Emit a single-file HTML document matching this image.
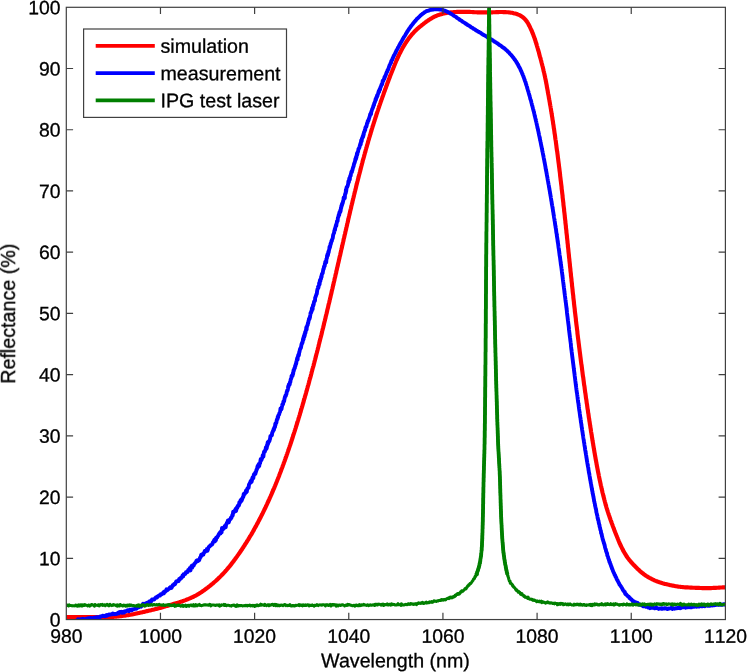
<!DOCTYPE html>
<html><head><meta charset="utf-8"><title>Reflectance</title>
<style>html,body{margin:0;padding:0;background:#fff}svg{display:block}</style></head>
<body><svg width="747" height="672" viewBox="0 0 747 672">
<rect width="747" height="672" fill="#fff"/>
<defs><clipPath id="c"><rect x="66.3" y="7.3" width="659.1" height="612.25"/></clipPath><filter id="f" x="-5%" y="-5%" width="110%" height="110%" color-interpolation-filters="sRGB"><feOffset dx="0" dy="0"/></filter></defs>
<g clip-path="url(#c)" fill="none" stroke-linejoin="round" stroke-linecap="butt">
<path d="M64.0,617.1 L64.4,617.1 L64.9,617.1 L65.4,617.1 L66.0,617.1 L66.6,617.1 L67.2,617.1 L67.9,617.1 L68.6,617.1 L69.4,617.1 L70.1,617.1 L70.9,617.1 L71.7,617.1 L72.4,617.1 L73.2,617.1 L74.0,617.1 L74.8,617.1 L75.6,617.1 L76.4,617.1 L77.2,617.1 L78.0,617.1 L78.8,617.1 L79.6,617.1 L80.4,617.1 L81.2,617.1 L82.0,617.1 L82.8,617.1 L83.6,617.1 L84.4,617.1 L85.2,617.1 L86.0,617.1 L86.8,617.1 L87.6,617.1 L88.4,617.1 L89.2,617.1 L90.0,617.1 L90.8,617.1 L91.6,617.1 L92.4,617.0 L93.2,617.0 L94.0,617.0 L94.8,617.0 L95.6,617.0 L96.4,617.0 L97.2,617.0 L98.0,617.0 L98.8,617.0 L99.6,617.0 L100.4,617.0 L101.2,617.0 L102.0,617.0 L102.8,617.0 L103.6,617.0 L104.4,617.0 L105.2,617.0 L106.0,617.0 L106.8,617.0 L107.6,617.0 L108.4,617.0 L109.2,617.0 L110.0,617.0 L110.8,616.9 L111.6,616.9 L112.4,616.9 L113.2,616.8 L114.0,616.8 L114.8,616.7 L115.6,616.6 L116.4,616.6 L117.2,616.5 L118.0,616.4 L118.8,616.4 L119.6,616.3 L120.4,616.2 L121.1,616.1 L121.9,616.0 L122.7,615.9 L123.5,615.8 L124.3,615.7 L125.1,615.6 L125.9,615.5 L126.7,615.3 L127.5,615.2 L128.3,615.1 L129.1,615.0 L129.9,614.8 L130.6,614.7 L131.4,614.5 L132.2,614.4 L133.0,614.2 L133.8,614.1 L134.6,613.9 L135.4,613.8 L136.1,613.6 L136.9,613.4 L137.7,613.3 L138.5,613.1 L139.3,612.9 L140.0,612.8 L140.8,612.6 L141.6,612.4 L142.4,612.2 L143.2,612.0 L143.9,611.9 L144.7,611.7 L145.5,611.5 L146.3,611.3 L147.1,611.1 L147.8,611.0 L148.6,610.8 L149.4,610.6 L150.2,610.4 L151.0,610.2 L151.7,610.0 L152.5,609.8 L153.3,609.7 L154.1,609.5 L154.8,609.3 L155.6,609.1 L156.4,608.9 L157.2,608.7 L157.9,608.5 L158.7,608.3 L159.5,608.1 L160.3,607.9 L161.0,607.7 L161.8,607.4 L162.6,607.2 L163.3,607.0 L164.1,606.8 L164.9,606.6 L165.6,606.3 L166.4,606.1 L167.2,605.9 L167.9,605.7 L168.7,605.4 L169.5,605.2 L170.2,605.0 L171.0,604.7 L171.8,604.5 L172.5,604.3 L173.3,604.1 L174.1,603.8 L174.8,603.6 L175.6,603.4 L176.4,603.1 L177.1,602.9 L177.9,602.7 L178.7,602.4 L179.4,602.2 L180.2,601.9 L181.0,601.7 L181.7,601.4 L182.5,601.2 L183.2,600.9 L184.0,600.7 L184.7,600.4 L185.5,600.1 L186.2,599.8 L187.0,599.5 L187.7,599.2 L188.5,598.9 L189.2,598.6 L189.9,598.3 L190.7,598.0 L191.4,597.7 L192.1,597.3 L192.8,597.0 L193.6,596.7 L194.3,596.3 L195.0,595.9 L195.7,595.6 L196.4,595.2 L197.1,594.8 L197.8,594.4 L198.4,594.0 L199.1,593.6 L199.8,593.1 L200.5,592.7 L201.2,592.3 L201.8,591.8 L202.5,591.4 L203.1,590.9 L203.8,590.5 L204.5,590.0 L205.1,589.5 L205.8,589.0 L206.4,588.6 L207.0,588.1 L207.7,587.6 L208.3,587.1 L208.9,586.6 L209.6,586.1 L210.2,585.6 L210.8,585.1 L211.4,584.6 L212.0,584.1 L212.7,583.6 L213.3,583.1 L213.9,582.5 L214.5,582.0 L215.1,581.5 L215.7,581.0 L216.3,580.4 L216.9,579.9 L217.4,579.3 L218.0,578.8 L218.6,578.2 L219.2,577.7 L219.8,577.1 L220.3,576.5 L220.9,576.0 L221.5,575.4 L222.0,574.8 L222.6,574.2 L223.1,573.7 L223.7,573.1 L224.2,572.5 L224.8,571.9 L225.3,571.3 L225.8,570.7 L226.4,570.1 L226.9,569.5 L227.4,568.9 L227.9,568.3 L228.4,567.7 L228.9,567.1 L229.5,566.5 L230.0,565.9 L230.5,565.2 L231.0,564.6 L231.4,564.0 L231.9,563.3 L232.4,562.7 L232.9,562.1 L233.4,561.4 L233.9,560.8 L234.3,560.1 L234.8,559.5 L235.3,558.8 L235.8,558.2 L236.2,557.6 L236.7,556.9 L237.2,556.2 L237.6,555.6 L238.1,554.9 L238.5,554.3 L239.0,553.6 L239.5,553.0 L239.9,552.3 L240.4,551.7 L240.8,551.0 L241.3,550.3 L241.7,549.7 L242.2,549.0 L242.6,548.3 L243.0,547.7 L243.5,547.0 L243.9,546.3 L244.3,545.7 L244.8,545.0 L245.2,544.3 L245.6,543.6 L246.1,543.0 L246.5,542.3 L246.9,541.6 L247.3,540.9 L247.8,540.2 L248.2,539.6 L248.6,538.9 L249.0,538.2 L249.4,537.5 L249.8,536.8 L250.2,536.1 L250.7,535.4 L251.1,534.8 L251.5,534.1 L251.9,533.4 L252.3,532.7 L252.7,532.0 L253.1,531.3 L253.5,530.6 L253.9,529.9 L254.2,529.2 L254.6,528.5 L255.0,527.8 L255.4,527.1 L255.8,526.4 L256.2,525.7 L256.6,525.0 L256.9,524.3 L257.3,523.6 L257.7,522.9 L258.1,522.2 L258.4,521.5 L258.8,520.8 L259.2,520.1 L259.6,519.3 L259.9,518.6 L260.3,517.9 L260.7,517.2 L261.0,516.5 L261.4,515.8 L261.7,515.1 L262.1,514.4 L262.5,513.6 L262.8,512.9 L263.2,512.2 L263.5,511.5 L263.9,510.8 L264.2,510.1 L264.6,509.3 L264.9,508.6 L265.3,507.9 L265.6,507.2 L265.9,506.4 L266.3,505.7 L266.6,505.0 L267.0,504.3 L267.3,503.5 L267.6,502.8 L268.0,502.1 L268.3,501.4 L268.6,500.6 L269.0,499.9 L269.3,499.2 L269.6,498.4 L269.9,497.7 L270.3,497.0 L270.6,496.3 L270.9,495.5 L271.2,494.8 L271.6,494.1 L271.9,493.3 L272.2,492.6 L272.5,491.9 L272.8,491.1 L273.1,490.4 L273.4,489.6 L273.8,488.9 L274.1,488.2 L274.4,487.4 L274.7,486.7 L275.0,486.0 L275.3,485.2 L275.6,484.5 L275.9,483.7 L276.2,483.0 L276.5,482.3 L276.8,481.5 L277.1,480.8 L277.4,480.0 L277.7,479.3 L278.0,478.5 L278.3,477.8 L278.6,477.1 L278.9,476.3 L279.2,475.6 L279.4,474.8 L279.7,474.1 L280.0,473.3 L280.3,472.6 L280.6,471.8 L280.9,471.1 L281.2,470.3 L281.4,469.6 L281.7,468.8 L282.0,468.1 L282.3,467.3 L282.6,466.6 L282.8,465.8 L283.1,465.1 L283.4,464.3 L283.7,463.6 L283.9,462.8 L284.2,462.1 L284.5,461.3 L284.8,460.6 L285.0,459.8 L285.3,459.1 L285.6,458.3 L285.8,457.6 L286.1,456.8 L286.4,456.1 L286.6,455.3 L286.9,454.5 L287.2,453.8 L287.4,453.0 L287.7,452.3 L287.9,451.5 L288.2,450.8 L288.5,450.0 L288.7,449.3 L289.0,448.5 L289.2,447.7 L289.5,447.0 L289.7,446.2 L290.0,445.5 L290.3,444.7 L290.5,443.9 L290.8,443.2 L291.0,442.4 L291.3,441.7 L291.5,440.9 L291.8,440.1 L292.0,439.4 L292.3,438.6 L292.5,437.9 L292.8,437.1 L293.0,436.3 L293.2,435.6 L293.5,434.8 L293.7,434.1 L294.0,433.3 L294.2,432.5 L294.5,431.8 L294.7,431.0 L295.0,430.2 L295.2,429.5 L295.4,428.7 L295.7,428.0 L295.9,427.2 L296.1,426.4 L296.4,425.7 L296.6,424.9 L296.9,424.1 L297.1,423.4 L297.3,422.6 L297.6,421.8 L297.8,421.1 L298.0,420.3 L298.3,419.6 L298.5,418.8 L298.7,418.0 L299.0,417.3 L299.2,416.5 L299.4,415.7 L299.7,415.0 L299.9,414.2 L300.1,413.4 L300.3,412.7 L300.6,411.9 L300.8,411.1 L301.0,410.4 L301.2,409.6 L301.5,408.8 L301.7,408.1 L301.9,407.3 L302.2,406.5 L302.4,405.8 L302.6,405.0 L302.8,404.2 L303.0,403.4 L303.3,402.7 L303.5,401.9 L303.7,401.1 L303.9,400.4 L304.1,399.6 L304.4,398.8 L304.6,398.1 L304.8,397.3 L305.0,396.5 L305.2,395.8 L305.5,395.0 L305.7,394.2 L305.9,393.4 L306.1,392.7 L306.3,391.9 L306.5,391.1 L306.8,390.4 L307.0,389.6 L307.2,388.8 L307.4,388.1 L307.6,387.3 L307.8,386.5 L308.0,385.7 L308.3,385.0 L308.5,384.2 L308.7,383.4 L308.9,382.7 L309.1,381.9 L309.3,381.1 L309.5,380.3 L309.7,379.6 L309.9,378.8 L310.2,378.0 L310.4,377.3 L310.6,376.5 L310.8,375.7 L311.0,374.9 L311.2,374.2 L311.4,373.4 L311.6,372.6 L311.8,371.8 L312.0,371.1 L312.2,370.3 L312.4,369.5 L312.6,368.7 L312.8,368.0 L313.0,367.2 L313.3,366.4 L313.5,365.7 L313.7,364.9 L313.9,364.1 L314.1,363.3 L314.3,362.6 L314.5,361.8 L314.7,361.0 L314.9,360.2 L315.1,359.5 L315.3,358.7 L315.5,357.9 L315.7,357.1 L315.9,356.4 L316.1,355.6 L316.3,354.8 L316.5,354.0 L316.7,353.3 L316.9,352.5 L317.1,351.7 L317.3,350.9 L317.5,350.2 L317.7,349.4 L317.9,348.6 L318.1,347.8 L318.3,347.1 L318.5,346.3 L318.7,345.5 L318.8,344.7 L319.0,344.0 L319.2,343.2 L319.4,342.4 L319.6,341.6 L319.8,340.9 L320.0,340.1 L320.2,339.3 L320.4,338.5 L320.6,337.8 L320.8,337.0 L321.0,336.2 L321.2,335.4 L321.4,334.7 L321.6,333.9 L321.8,333.1 L322.0,332.3 L322.1,331.5 L322.3,330.8 L322.5,330.0 L322.7,329.2 L322.9,328.4 L323.1,327.7 L323.3,326.9 L323.5,326.1 L323.7,325.3 L323.9,324.6 L324.0,323.8 L324.2,323.0 L324.4,322.2 L324.6,321.4 L324.8,320.7 L325.0,319.9 L325.2,319.1 L325.4,318.3 L325.6,317.6 L325.7,316.8 L325.9,316.0 L326.1,315.2 L326.3,314.4 L326.5,313.7 L326.7,312.9 L326.9,312.1 L327.1,311.3 L327.2,310.6 L327.4,309.8 L327.6,309.0 L327.8,308.2 L328.0,307.4 L328.2,306.7 L328.3,305.9 L328.5,305.1 L328.7,304.3 L328.9,303.5 L329.1,302.8 L329.3,302.0 L329.5,301.2 L329.6,300.4 L329.8,299.7 L330.0,298.9 L330.2,298.1 L330.4,297.3 L330.6,296.5 L330.7,295.8 L330.9,295.0 L331.1,294.2 L331.3,293.4 L331.5,292.6 L331.6,291.9 L331.8,291.1 L332.0,290.3 L332.2,289.5 L332.4,288.8 L332.6,288.0 L332.7,287.2 L332.9,286.4 L333.1,285.6 L333.3,284.9 L333.5,284.1 L333.6,283.3 L333.8,282.5 L334.0,281.7 L334.2,281.0 L334.4,280.2 L334.5,279.4 L334.7,278.6 L334.9,277.8 L335.1,277.1 L335.3,276.3 L335.4,275.5 L335.6,274.7 L335.8,273.9 L336.0,273.2 L336.2,272.4 L336.3,271.6 L336.5,270.8 L336.7,270.0 L336.9,269.3 L337.0,268.5 L337.2,267.7 L337.4,266.9 L337.6,266.1 L337.8,265.4 L337.9,264.6 L338.1,263.8 L338.3,263.0 L338.5,262.2 L338.7,261.5 L338.8,260.7 L339.0,259.9 L339.2,259.1 L339.4,258.3 L339.5,257.6 L339.7,256.8 L339.9,256.0 L340.1,255.2 L340.3,254.4 L340.4,253.7 L340.6,252.9 L340.8,252.1 L341.0,251.3 L341.1,250.5 L341.3,249.8 L341.5,249.0 L341.7,248.2 L341.9,247.4 L342.0,246.6 L342.2,245.9 L342.4,245.1 L342.6,244.3 L342.8,243.5 L342.9,242.7 L343.1,242.0 L343.3,241.2 L343.5,240.4 L343.6,239.6 L343.8,238.8 L344.0,238.1 L344.2,237.3 L344.4,236.5 L344.5,235.7 L344.7,234.9 L344.9,234.2 L345.1,233.4 L345.3,232.6 L345.4,231.8 L345.6,231.1 L345.8,230.3 L346.0,229.5 L346.2,228.7 L346.3,227.9 L346.5,227.2 L346.7,226.4 L346.9,225.6 L347.1,224.8 L347.2,224.0 L347.4,223.3 L347.6,222.5 L347.8,221.7 L348.0,220.9 L348.1,220.1 L348.3,219.4 L348.5,218.6 L348.7,217.8 L348.9,217.0 L349.0,216.2 L349.2,215.5 L349.4,214.7 L349.6,213.9 L349.8,213.1 L350.0,212.3 L350.1,211.6 L350.3,210.8 L350.5,210.0 L350.7,209.2 L350.9,208.5 L351.1,207.7 L351.2,206.9 L351.4,206.1 L351.6,205.3 L351.8,204.6 L352.0,203.8 L352.2,203.0 L352.4,202.2 L352.5,201.5 L352.7,200.7 L352.9,199.9 L353.1,199.1 L353.3,198.3 L353.5,197.6 L353.7,196.8 L353.9,196.0 L354.0,195.2 L354.2,194.5 L354.4,193.7 L354.6,192.9 L354.8,192.1 L355.0,191.3 L355.2,190.6 L355.4,189.8 L355.6,189.0 L355.8,188.2 L356.0,187.5 L356.1,186.7 L356.3,185.9 L356.5,185.1 L356.7,184.4 L356.9,183.6 L357.1,182.8 L357.3,182.0 L357.5,181.3 L357.7,180.5 L357.9,179.7 L358.1,178.9 L358.3,178.1 L358.5,177.4 L358.7,176.6 L358.9,175.8 L359.1,175.0 L359.3,174.3 L359.5,173.5 L359.7,172.7 L359.9,172.0 L360.1,171.2 L360.3,170.4 L360.5,169.6 L360.7,168.9 L360.9,168.1 L361.1,167.3 L361.3,166.5 L361.5,165.8 L361.7,165.0 L361.9,164.2 L362.1,163.4 L362.3,162.7 L362.5,161.9 L362.7,161.1 L362.9,160.3 L363.1,159.6 L363.4,158.8 L363.6,158.0 L363.8,157.3 L364.0,156.5 L364.2,155.7 L364.4,154.9 L364.6,154.2 L364.8,153.4 L365.0,152.6 L365.3,151.9 L365.5,151.1 L365.7,150.3 L365.9,149.5 L366.1,148.8 L366.3,148.0 L366.6,147.2 L366.8,146.5 L367.0,145.7 L367.2,144.9 L367.4,144.2 L367.7,143.4 L367.9,142.6 L368.1,141.9 L368.3,141.1 L368.5,140.3 L368.8,139.6 L369.0,138.8 L369.2,138.0 L369.4,137.2 L369.7,136.5 L369.9,135.7 L370.1,134.9 L370.4,134.2 L370.6,133.4 L370.8,132.6 L371.0,131.9 L371.3,131.1 L371.5,130.4 L371.7,129.6 L372.0,128.8 L372.2,128.1 L372.4,127.3 L372.7,126.5 L372.9,125.8 L373.2,125.0 L373.4,124.2 L373.6,123.5 L373.9,122.7 L374.1,121.9 L374.4,121.2 L374.6,120.4 L374.8,119.7 L375.1,118.9 L375.3,118.1 L375.6,117.4 L375.8,116.6 L376.1,115.9 L376.3,115.1 L376.6,114.3 L376.8,113.6 L377.1,112.8 L377.3,112.0 L377.6,111.3 L377.8,110.5 L378.1,109.8 L378.3,109.0 L378.6,108.3 L378.8,107.5 L379.1,106.7 L379.3,106.0 L379.6,105.2 L379.9,104.5 L380.1,103.7 L380.4,103.0 L380.6,102.2 L380.9,101.4 L381.2,100.7 L381.4,99.9 L381.7,99.2 L382.0,98.4 L382.2,97.7 L382.5,96.9 L382.8,96.2 L383.0,95.4 L383.3,94.7 L383.6,93.9 L383.8,93.1 L384.1,92.4 L384.4,91.6 L384.7,90.9 L384.9,90.1 L385.2,89.4 L385.5,88.6 L385.8,87.9 L386.0,87.1 L386.3,86.4 L386.6,85.6 L386.9,84.9 L387.1,84.1 L387.4,83.4 L387.7,82.6 L388.0,81.9 L388.3,81.1 L388.5,80.4 L388.8,79.6 L389.1,78.9 L389.4,78.1 L389.7,77.4 L390.0,76.6 L390.2,75.9 L390.5,75.1 L390.8,74.4 L391.1,73.7 L391.4,72.9 L391.7,72.2 L392.0,71.4 L392.3,70.7 L392.6,69.9 L392.9,69.2 L393.2,68.4 L393.5,67.7 L393.8,67.0 L394.1,66.2 L394.4,65.5 L394.7,64.7 L395.0,64.0 L395.3,63.3 L395.6,62.5 L395.9,61.8 L396.2,61.1 L396.5,60.3 L396.9,59.6 L397.2,58.9 L397.5,58.1 L397.9,57.4 L398.2,56.7 L398.5,56.0 L398.9,55.2 L399.2,54.5 L399.6,53.8 L399.9,53.1 L400.3,52.4 L400.7,51.7 L401.0,51.0 L401.4,50.3 L401.8,49.5 L402.2,48.8 L402.5,48.1 L402.9,47.5 L403.3,46.8 L403.7,46.1 L404.1,45.4 L404.6,44.7 L405.0,44.0 L405.4,43.3 L405.8,42.7 L406.3,42.0 L406.7,41.3 L407.2,40.7 L407.6,40.0 L408.1,39.4 L408.5,38.7 L409.0,38.1 L409.5,37.4 L410.0,36.8 L410.5,36.2 L411.0,35.6 L411.5,35.0 L412.0,34.3 L412.6,33.7 L413.1,33.2 L413.6,32.6 L414.2,32.0 L414.7,31.4 L415.3,30.9 L415.9,30.3 L416.5,29.7 L417.0,29.2 L417.6,28.7 L418.2,28.1 L418.8,27.6 L419.4,27.1 L420.0,26.6 L420.7,26.1 L421.3,25.6 L421.9,25.1 L422.5,24.6 L423.2,24.1 L423.8,23.6 L424.4,23.1 L425.1,22.6 L425.7,22.1 L426.4,21.7 L427.0,21.2 L427.7,20.8 L428.3,20.3 L429.0,19.9 L429.7,19.4 L430.3,19.0 L431.0,18.6 L431.7,18.2 L432.4,17.8 L433.1,17.4 L433.8,17.0 L434.5,16.7 L435.2,16.3 L435.9,16.0 L436.7,15.7 L437.4,15.4 L438.2,15.1 L438.9,14.9 L439.7,14.6 L440.4,14.4 L441.2,14.2 L442.0,14.0 L442.7,13.8 L443.5,13.6 L444.3,13.4 L445.1,13.3 L445.8,13.1 L446.6,13.0 L447.4,12.8 L448.2,12.7 L449.0,12.6 L449.8,12.5 L450.6,12.4 L451.4,12.3 L452.2,12.2 L453.0,12.2 L453.8,12.1 L454.6,12.0 L455.4,12.0 L456.2,12.0 L457.0,11.9 L457.8,11.9 L458.6,11.8 L459.4,11.8 L460.2,11.8 L461.0,11.8 L461.8,11.8 L462.6,11.8 L463.4,11.8 L464.2,11.8 L465.0,11.8 L465.8,11.8 L466.6,11.8 L467.4,11.9 L468.2,11.9 L469.0,11.9 L469.8,11.9 L470.5,12.0 L471.3,12.0 L472.1,12.0 L472.9,12.1 L473.7,12.1 L474.5,12.2 L475.3,12.2 L476.1,12.2 L476.9,12.3 L477.7,12.3 L478.5,12.3 L479.3,12.4 L480.1,12.4 L480.9,12.4 L481.7,12.4 L482.5,12.4 L483.3,12.4 L484.1,12.4 L484.9,12.4 L485.7,12.4 L486.5,12.4 L487.3,12.4 L488.1,12.4 L488.9,12.4 L489.7,12.4 L490.5,12.3 L491.3,12.3 L492.1,12.3 L492.9,12.3 L493.7,12.2 L494.5,12.2 L495.3,12.2 L496.1,12.1 L496.9,12.1 L497.7,12.1 L498.5,12.1 L499.3,12.0 L500.1,12.0 L500.9,12.0 L501.7,12.0 L502.5,12.0 L503.3,12.1 L504.1,12.1 L504.9,12.1 L505.7,12.1 L506.5,12.2 L507.3,12.2 L508.1,12.3 L508.9,12.4 L509.7,12.5 L510.5,12.6 L511.3,12.7 L512.1,12.8 L512.9,13.0 L513.6,13.2 L514.4,13.4 L515.2,13.6 L516.0,13.8 L516.7,14.0 L517.5,14.3 L518.2,14.6 L519.0,14.9 L519.7,15.2 L520.4,15.6 L521.1,16.0 L521.7,16.4 L522.4,16.9 L523.0,17.4 L523.6,17.9 L524.2,18.4 L524.8,19.0 L525.3,19.6 L525.8,20.2 L526.3,20.8 L526.8,21.4 L527.2,22.1 L527.7,22.8 L528.1,23.5 L528.5,24.2 L528.8,24.9 L529.2,25.6 L529.6,26.3 L529.9,27.0 L530.3,27.7 L530.6,28.5 L530.9,29.2 L531.3,29.9 L531.6,30.6 L531.9,31.4 L532.2,32.1 L532.5,32.9 L532.8,33.6 L533.1,34.3 L533.4,35.1 L533.6,35.8 L533.9,36.6 L534.2,37.3 L534.5,38.1 L534.7,38.8 L535.0,39.6 L535.2,40.3 L535.5,41.1 L535.7,41.9 L536.0,42.6 L536.2,43.4 L536.4,44.1 L536.7,44.9 L536.9,45.7 L537.1,46.4 L537.4,47.2 L537.6,48.0 L537.8,48.7 L538.0,49.5 L538.2,50.3 L538.5,51.1 L538.7,51.8 L538.9,52.6 L539.1,53.4 L539.3,54.1 L539.5,54.9 L539.7,55.7 L539.9,56.5 L540.1,57.2 L540.4,58.0 L540.6,58.8 L540.8,59.6 L541.0,60.3 L541.2,61.1 L541.4,61.9 L541.6,62.7 L541.8,63.4 L542.0,64.2 L542.2,65.0 L542.4,65.8 L542.6,66.5 L542.8,67.3 L543.0,68.1 L543.2,68.9 L543.4,69.7 L543.5,70.4 L543.7,71.2 L543.9,72.0 L544.1,72.8 L544.3,73.5 L544.4,74.3 L544.6,75.1 L544.8,75.9 L545.0,76.7 L545.1,77.4 L545.3,78.2 L545.4,79.0 L545.6,79.8 L545.8,80.6 L545.9,81.4 L546.1,82.1 L546.2,82.9 L546.4,83.7 L546.5,84.5 L546.7,85.3 L546.8,86.1 L546.9,86.9 L547.1,87.6 L547.2,88.4 L547.4,89.2 L547.5,90.0 L547.7,90.8 L547.8,91.6 L547.9,92.4 L548.1,93.2 L548.2,93.9 L548.4,94.7 L548.5,95.5 L548.7,96.3 L548.8,97.1 L548.9,97.9 L549.1,98.7 L549.2,99.4 L549.4,100.2 L549.5,101.0 L549.6,101.8 L549.8,102.6 L549.9,103.4 L550.0,104.2 L550.2,105.0 L550.3,105.8 L550.5,106.5 L550.6,107.3 L550.7,108.1 L550.9,108.9 L551.0,109.7 L551.1,110.5 L551.2,111.3 L551.4,112.1 L551.5,112.9 L551.6,113.6 L551.8,114.4 L551.9,115.2 L552.0,116.0 L552.1,116.8 L552.3,117.6 L552.4,118.4 L552.5,119.2 L552.6,120.0 L552.8,120.8 L552.9,121.5 L553.0,122.3 L553.1,123.1 L553.2,123.9 L553.4,124.7 L553.5,125.5 L553.6,126.3 L553.7,127.1 L553.8,127.9 L554.0,128.7 L554.1,129.5 L554.2,130.2 L554.3,131.0 L554.4,131.8 L554.5,132.6 L554.6,133.4 L554.8,134.2 L554.9,135.0 L555.0,135.8 L555.1,136.6 L555.2,137.4 L555.3,138.2 L555.4,139.0 L555.5,139.8 L555.7,140.5 L555.8,141.3 L555.9,142.1 L556.0,142.9 L556.1,143.7 L556.2,144.5 L556.3,145.3 L556.4,146.1 L556.5,146.9 L556.6,147.7 L556.7,148.5 L556.8,149.3 L556.9,150.1 L557.0,150.8 L557.2,151.6 L557.3,152.4 L557.4,153.2 L557.5,154.0 L557.6,154.8 L557.7,155.6 L557.8,156.4 L557.9,157.2 L558.0,158.0 L558.1,158.8 L558.2,159.6 L558.3,160.4 L558.4,161.2 L558.5,162.0 L558.6,162.8 L558.7,163.5 L558.8,164.3 L558.9,165.1 L559.0,165.9 L559.1,166.7 L559.2,167.5 L559.3,168.3 L559.4,169.1 L559.5,169.9 L559.6,170.7 L559.7,171.5 L559.8,172.3 L559.9,173.1 L560.0,173.9 L560.1,174.7 L560.1,175.5 L560.2,176.2 L560.3,177.0 L560.4,177.8 L560.5,178.6 L560.6,179.4 L560.7,180.2 L560.8,181.0 L560.9,181.8 L561.0,182.6 L561.1,183.4 L561.2,184.2 L561.3,185.0 L561.4,185.8 L561.5,186.6 L561.6,187.4 L561.6,188.2 L561.7,189.0 L561.8,189.8 L561.9,190.6 L562.0,191.3 L562.1,192.1 L562.2,192.9 L562.3,193.7 L562.4,194.5 L562.5,195.3 L562.6,196.1 L562.6,196.9 L562.7,197.7 L562.8,198.5 L562.9,199.3 L563.0,200.1 L563.1,200.9 L563.2,201.7 L563.3,202.5 L563.4,203.3 L563.4,204.1 L563.5,204.9 L563.6,205.7 L563.7,206.5 L563.8,207.2 L563.9,208.0 L564.0,208.8 L564.1,209.6 L564.1,210.4 L564.2,211.2 L564.3,212.0 L564.4,212.8 L564.5,213.6 L564.6,214.4 L564.7,215.2 L564.8,216.0 L564.8,216.8 L564.9,217.6 L565.0,218.4 L565.1,219.2 L565.2,220.0 L565.3,220.8 L565.4,221.6 L565.4,222.4 L565.5,223.2 L565.6,223.9 L565.7,224.7 L565.8,225.5 L565.9,226.3 L565.9,227.1 L566.0,227.9 L566.1,228.7 L566.2,229.5 L566.3,230.3 L566.4,231.1 L566.4,231.9 L566.5,232.7 L566.6,233.5 L566.7,234.3 L566.8,235.1 L566.9,235.9 L567.0,236.7 L567.0,237.5 L567.1,238.3 L567.2,239.1 L567.3,239.9 L567.4,240.7 L567.5,241.5 L567.5,242.2 L567.6,243.0 L567.7,243.8 L567.8,244.6 L567.9,245.4 L567.9,246.2 L568.0,247.0 L568.1,247.8 L568.2,248.6 L568.3,249.4 L568.4,250.2 L568.4,251.0 L568.5,251.8 L568.6,252.6 L568.7,253.4 L568.8,254.2 L568.9,255.0 L568.9,255.8 L569.0,256.6 L569.1,257.4 L569.2,258.2 L569.3,259.0 L569.4,259.8 L569.4,260.5 L569.5,261.3 L569.6,262.1 L569.7,262.9 L569.8,263.7 L569.9,264.5 L569.9,265.3 L570.0,266.1 L570.1,266.9 L570.2,267.7 L570.3,268.5 L570.4,269.3 L570.4,270.1 L570.5,270.9 L570.6,271.7 L570.7,272.5 L570.8,273.3 L570.9,274.1 L570.9,274.9 L571.0,275.7 L571.1,276.5 L571.2,277.3 L571.3,278.1 L571.4,278.8 L571.5,279.6 L571.5,280.4 L571.6,281.2 L571.7,282.0 L571.8,282.8 L571.9,283.6 L572.0,284.4 L572.0,285.2 L572.1,286.0 L572.2,286.8 L572.3,287.6 L572.4,288.4 L572.5,289.2 L572.6,290.0 L572.6,290.8 L572.7,291.6 L572.8,292.4 L572.9,293.2 L573.0,294.0 L573.1,294.8 L573.2,295.5 L573.3,296.3 L573.3,297.1 L573.4,297.9 L573.5,298.7 L573.6,299.5 L573.7,300.3 L573.8,301.1 L573.9,301.9 L574.0,302.7 L574.0,303.5 L574.1,304.3 L574.2,305.1 L574.3,305.9 L574.4,306.7 L574.5,307.5 L574.6,308.3 L574.7,309.1 L574.8,309.9 L574.8,310.7 L574.9,311.5 L575.0,312.2 L575.1,313.0 L575.2,313.8 L575.3,314.6 L575.4,315.4 L575.5,316.2 L575.6,317.0 L575.7,317.8 L575.8,318.6 L575.9,319.4 L575.9,320.2 L576.0,321.0 L576.1,321.8 L576.2,322.6 L576.3,323.4 L576.4,324.2 L576.5,325.0 L576.6,325.8 L576.7,326.6 L576.8,327.3 L576.9,328.1 L577.0,328.9 L577.1,329.7 L577.2,330.5 L577.3,331.3 L577.4,332.1 L577.4,332.9 L577.5,333.7 L577.6,334.5 L577.7,335.3 L577.8,336.1 L577.9,336.9 L578.0,337.7 L578.1,338.5 L578.2,339.3 L578.3,340.1 L578.4,340.8 L578.5,341.6 L578.6,342.4 L578.7,343.2 L578.8,344.0 L578.9,344.8 L579.0,345.6 L579.1,346.4 L579.2,347.2 L579.3,348.0 L579.4,348.8 L579.5,349.6 L579.6,350.4 L579.7,351.2 L579.8,352.0 L579.9,352.8 L580.0,353.5 L580.1,354.3 L580.2,355.1 L580.3,355.9 L580.4,356.7 L580.5,357.5 L580.6,358.3 L580.7,359.1 L580.8,359.9 L580.9,360.7 L581.0,361.5 L581.1,362.3 L581.2,363.1 L581.3,363.9 L581.5,364.7 L581.6,365.4 L581.7,366.2 L581.8,367.0 L581.9,367.8 L582.0,368.6 L582.1,369.4 L582.2,370.2 L582.3,371.0 L582.4,371.8 L582.5,372.6 L582.6,373.4 L582.7,374.2 L582.8,375.0 L582.9,375.8 L583.0,376.5 L583.2,377.3 L583.3,378.1 L583.4,378.9 L583.5,379.7 L583.6,380.5 L583.7,381.3 L583.8,382.1 L583.9,382.9 L584.0,383.7 L584.1,384.5 L584.2,385.3 L584.4,386.1 L584.5,386.8 L584.6,387.6 L584.7,388.4 L584.8,389.2 L584.9,390.0 L585.0,390.8 L585.1,391.6 L585.2,392.4 L585.4,393.2 L585.5,394.0 L585.6,394.8 L585.7,395.6 L585.8,396.4 L585.9,397.1 L586.0,397.9 L586.1,398.7 L586.3,399.5 L586.4,400.3 L586.5,401.1 L586.6,401.9 L586.7,402.7 L586.8,403.5 L587.0,404.3 L587.1,405.1 L587.2,405.9 L587.3,406.6 L587.4,407.4 L587.5,408.2 L587.6,409.0 L587.8,409.8 L587.9,410.6 L588.0,411.4 L588.1,412.2 L588.2,413.0 L588.4,413.8 L588.5,414.6 L588.6,415.4 L588.7,416.1 L588.8,416.9 L588.9,417.7 L589.1,418.5 L589.2,419.3 L589.3,420.1 L589.4,420.9 L589.6,421.7 L589.7,422.5 L589.8,423.3 L589.9,424.1 L590.0,424.8 L590.2,425.6 L590.3,426.4 L590.4,427.2 L590.5,428.0 L590.7,428.8 L590.8,429.6 L590.9,430.4 L591.0,431.2 L591.1,432.0 L591.3,432.7 L591.4,433.5 L591.5,434.3 L591.7,435.1 L591.8,435.9 L591.9,436.7 L592.0,437.5 L592.2,438.3 L592.3,439.1 L592.4,439.9 L592.5,440.6 L592.7,441.4 L592.8,442.2 L592.9,443.0 L593.1,443.8 L593.2,444.6 L593.3,445.4 L593.5,446.2 L593.6,447.0 L593.7,447.7 L593.9,448.5 L594.0,449.3 L594.1,450.1 L594.3,450.9 L594.4,451.7 L594.5,452.5 L594.7,453.3 L594.8,454.1 L594.9,454.8 L595.1,455.6 L595.2,456.4 L595.4,457.2 L595.5,458.0 L595.6,458.8 L595.8,459.6 L595.9,460.4 L596.1,461.1 L596.2,461.9 L596.4,462.7 L596.5,463.5 L596.6,464.3 L596.8,465.1 L596.9,465.9 L597.1,466.6 L597.2,467.4 L597.4,468.2 L597.5,469.0 L597.7,469.8 L597.8,470.6 L598.0,471.4 L598.1,472.1 L598.3,472.9 L598.5,473.7 L598.6,474.5 L598.8,475.3 L598.9,476.1 L599.1,476.9 L599.2,477.6 L599.4,478.4 L599.6,479.2 L599.7,480.0 L599.9,480.8 L600.1,481.6 L600.2,482.3 L600.4,483.1 L600.6,483.9 L600.7,484.7 L600.9,485.5 L601.1,486.2 L601.3,487.0 L601.4,487.8 L601.6,488.6 L601.8,489.4 L602.0,490.1 L602.2,490.9 L602.3,491.7 L602.5,492.5 L602.7,493.3 L602.9,494.0 L603.1,494.8 L603.3,495.6 L603.5,496.4 L603.7,497.1 L603.9,497.9 L604.1,498.7 L604.3,499.5 L604.5,500.2 L604.7,501.0 L604.9,501.8 L605.1,502.5 L605.3,503.3 L605.5,504.1 L605.7,504.9 L606.0,505.6 L606.2,506.4 L606.4,507.2 L606.6,507.9 L606.9,508.7 L607.1,509.5 L607.3,510.2 L607.6,511.0 L607.8,511.8 L608.1,512.5 L608.3,513.3 L608.5,514.0 L608.8,514.8 L609.1,515.5 L609.3,516.3 L609.6,517.1 L609.8,517.8 L610.1,518.6 L610.4,519.3 L610.6,520.1 L610.9,520.8 L611.2,521.6 L611.4,522.3 L611.7,523.1 L612.0,523.8 L612.3,524.6 L612.6,525.3 L612.8,526.1 L613.1,526.8 L613.4,527.6 L613.7,528.3 L614.0,529.1 L614.2,529.8 L614.5,530.6 L614.8,531.3 L615.1,532.1 L615.4,532.8 L615.7,533.6 L616.0,534.3 L616.3,535.1 L616.6,535.8 L616.9,536.5 L617.2,537.3 L617.5,538.0 L617.8,538.8 L618.1,539.5 L618.4,540.2 L618.7,541.0 L619.0,541.7 L619.3,542.4 L619.6,543.2 L620.0,543.9 L620.3,544.6 L620.6,545.4 L621.0,546.1 L621.3,546.8 L621.7,547.5 L622.0,548.2 L622.4,548.9 L622.8,549.6 L623.1,550.4 L623.5,551.1 L623.9,551.8 L624.3,552.5 L624.7,553.2 L625.1,553.8 L625.5,554.5 L626.0,555.2 L626.4,555.9 L626.8,556.6 L627.3,557.2 L627.7,557.9 L628.2,558.5 L628.7,559.1 L629.2,559.8 L629.7,560.4 L630.2,561.0 L630.7,561.6 L631.2,562.2 L631.7,562.8 L632.3,563.4 L632.8,564.0 L633.4,564.6 L633.9,565.2 L634.5,565.7 L635.1,566.3 L635.6,566.9 L636.2,567.4 L636.8,568.0 L637.3,568.6 L637.9,569.1 L638.5,569.7 L639.1,570.2 L639.7,570.8 L640.3,571.3 L640.9,571.8 L641.5,572.3 L642.1,572.8 L642.7,573.3 L643.4,573.8 L644.0,574.3 L644.6,574.8 L645.3,575.2 L646.0,575.7 L646.6,576.1 L647.3,576.5 L648.0,577.0 L648.7,577.4 L649.4,577.8 L650.1,578.1 L650.8,578.5 L651.5,578.9 L652.2,579.2 L652.9,579.6 L653.6,579.9 L654.4,580.3 L655.1,580.6 L655.8,580.9 L656.6,581.2 L657.3,581.5 L658.1,581.7 L658.8,582.0 L659.6,582.3 L660.3,582.5 L661.1,582.8 L661.9,583.0 L662.6,583.2 L663.4,583.4 L664.2,583.7 L664.9,583.9 L665.7,584.1 L666.5,584.3 L667.3,584.4 L668.0,584.6 L668.8,584.8 L669.6,585.0 L670.4,585.2 L671.2,585.3 L671.9,585.5 L672.7,585.6 L673.5,585.8 L674.3,585.9 L675.1,586.1 L675.9,586.2 L676.7,586.3 L677.4,586.5 L678.2,586.6 L679.0,586.7 L679.8,586.8 L680.6,586.9 L681.4,587.0 L682.2,587.0 L683.0,587.1 L683.8,587.2 L684.6,587.3 L685.4,587.3 L686.2,587.4 L687.0,587.4 L687.8,587.4 L688.6,587.5 L689.4,587.5 L690.2,587.6 L691.0,587.6 L691.8,587.6 L692.6,587.7 L693.4,587.7 L694.2,587.7 L695.0,587.8 L695.8,587.8 L696.6,587.8 L697.4,587.9 L698.2,587.9 L699.0,587.9 L699.8,588.0 L700.6,588.0 L701.4,588.0 L702.2,588.1 L703.0,588.1 L703.8,588.1 L704.6,588.1 L705.4,588.1 L706.2,588.1 L707.0,588.1 L707.8,588.1 L708.6,588.1 L709.4,588.1 L710.2,588.1 L711.0,588.1 L711.8,588.0 L712.6,588.0 L713.4,587.9 L714.1,587.9 L714.9,587.9 L715.7,587.8 L716.5,587.8 L717.3,587.7 L718.1,587.7 L718.9,587.6 L719.7,587.6 L720.5,587.5 L721.2,587.5 L722.0,587.5 L722.7,587.4 L723.4,587.4 L724.1,587.4 L724.7,587.4 L725.3,587.3 L725.9,587.3 L726.4,587.3 L726.9,587.3 L727.3,587.3" stroke="#ff0000" stroke-width="4.15"/>
<path d="M76.7,620.7 L77.1,620.2 L77.5,620.0 L78.0,619.2 L78.6,619.6 L79.2,619.5 L79.9,619.5 L80.6,619.3 L81.3,619.4 L82.0,619.1 L82.8,618.8 L83.6,619.4 L84.3,619.3 L85.1,619.5 L85.9,618.9 L86.7,618.7 L87.5,618.6 L88.3,618.2 L89.1,618.9 L89.9,618.1 L90.7,618.0 L91.5,618.2 L92.3,618.7 L93.1,618.1 L93.9,617.6 L94.6,617.6 L95.4,617.9 L96.2,617.5 L97.0,617.2 L97.8,617.2 L98.6,617.4 L99.4,617.7 L100.2,616.5 L101.0,616.6 L101.7,616.3 L102.5,615.7 L103.3,616.0 L104.1,615.8 L104.9,616.3 L105.7,615.8 L106.4,615.1 L107.2,615.7 L108.0,615.2 L108.8,614.5 L109.6,614.7 L110.3,614.5 L111.1,614.3 L111.9,614.4 L112.7,613.5 L113.5,614.0 L114.2,614.2 L115.0,614.0 L115.8,614.0 L116.6,613.8 L117.3,613.8 L118.1,612.7 L118.9,613.3 L119.7,612.1 L120.4,612.4 L121.2,611.7 L122.0,612.7 L122.8,612.6 L123.5,611.8 L124.3,612.4 L125.1,611.2 L125.8,611.3 L126.6,611.1 L127.4,610.3 L128.2,610.7 L128.9,611.2 L129.7,609.7 L130.5,610.3 L131.2,609.6 L132.0,610.2 L132.8,609.4 L133.5,609.3 L134.3,609.0 L135.0,608.6 L135.8,607.6 L136.5,608.6 L137.3,607.0 L138.0,607.5 L138.8,607.4 L139.5,606.3 L140.2,606.5 L141.0,606.7 L141.7,605.8 L142.4,605.0 L143.1,603.7 L143.8,604.3 L144.5,604.1 L145.2,603.8 L145.9,603.2 L146.6,603.5 L147.3,602.6 L148.0,602.5 L148.7,602.5 L149.4,601.3 L150.0,601.2 L150.7,602.1 L151.4,601.0 L152.1,599.4 L152.8,599.7 L153.4,599.6 L154.1,599.6 L154.8,598.6 L155.5,597.8 L156.1,597.2 L156.8,597.6 L157.5,597.0 L158.1,596.1 L158.8,595.8 L159.4,595.2 L160.1,595.5 L160.7,594.2 L161.4,594.4 L162.0,594.2 L162.7,593.5 L163.3,592.3 L164.0,593.2 L164.6,591.4 L165.2,591.7 L165.9,590.5 L166.5,589.4 L167.2,590.2 L167.8,589.7 L168.4,589.0 L169.1,588.8 L169.7,587.7 L170.3,587.2 L170.9,587.0 L171.5,587.9 L172.1,586.7 L172.7,585.3 L173.3,585.5 L173.9,584.3 L174.5,583.8 L175.1,584.1 L175.7,582.6 L176.3,581.3 L176.8,581.2 L177.4,581.4 L178.0,580.9 L178.6,581.1 L179.1,579.1 L179.7,579.6 L180.3,578.8 L180.8,577.8 L181.4,578.0 L182.0,577.2 L182.5,575.6 L183.1,576.5 L183.7,574.2 L184.2,574.6 L184.8,574.0 L185.4,573.8 L185.9,572.3 L186.5,572.3 L187.1,571.6 L187.6,571.9 L188.2,570.0 L188.8,570.1 L189.3,569.3 L189.9,567.9 L190.5,570.4 L191.0,567.7 L191.6,566.0 L192.1,567.7 L192.7,565.2 L193.2,565.8 L193.8,565.6 L194.3,563.8 L194.9,563.4 L195.4,562.7 L195.9,562.4 L196.5,560.6 L197.0,560.3 L197.5,560.6 L198.1,561.0 L198.6,560.0 L199.1,560.3 L199.6,558.9 L200.2,557.3 L200.7,557.0 L201.2,554.8 L201.7,555.1 L202.2,554.4 L202.8,554.9 L203.3,554.6 L203.8,553.0 L204.3,552.4 L204.8,551.0 L205.4,551.5 L205.9,551.2 L206.4,550.8 L206.9,549.1 L207.4,550.8 L207.9,549.5 L208.4,547.9 L208.9,546.9 L209.4,546.4 L209.9,546.2 L210.4,545.4 L210.9,545.2 L211.4,544.8 L211.9,544.7 L212.4,543.9 L212.9,542.2 L213.4,542.0 L213.9,540.7 L214.4,539.9 L214.9,541.4 L215.4,538.8 L215.9,540.1 L216.3,537.6 L216.8,537.4 L217.3,537.5 L217.8,536.0 L218.3,535.6 L218.7,534.5 L219.2,533.6 L219.7,533.2 L220.2,532.2 L220.6,533.4 L221.1,531.3 L221.6,532.2 L222.0,527.9 L222.5,529.5 L222.9,529.3 L223.4,527.9 L223.9,528.4 L224.3,527.4 L224.8,526.0 L225.2,525.9 L225.7,527.2 L226.1,524.4 L226.6,523.8 L227.0,522.6 L227.5,522.4 L227.9,520.5 L228.4,520.8 L228.8,522.3 L229.3,520.5 L229.7,519.4 L230.1,519.2 L230.6,519.1 L231.0,517.4 L231.4,517.9 L231.9,516.4 L232.3,515.0 L232.7,515.6 L233.2,511.6 L233.6,512.4 L234.0,512.4 L234.4,510.8 L234.9,510.7 L235.3,509.6 L235.7,508.9 L236.1,511.0 L236.5,508.6 L236.9,507.4 L237.3,507.8 L237.8,505.8 L238.2,506.1 L238.6,504.9 L239.0,505.3 L239.4,502.1 L239.8,503.2 L240.2,502.0 L240.6,500.2 L241.0,501.4 L241.4,499.1 L241.8,500.4 L242.2,498.8 L242.6,498.2 L242.9,497.0 L243.3,497.0 L243.7,494.0 L244.1,494.9 L244.5,493.6 L244.9,493.7 L245.3,492.7 L245.6,492.5 L246.0,490.6 L246.4,492.1 L246.8,491.8 L247.2,489.0 L247.5,488.4 L247.9,488.0 L248.3,488.0 L248.6,487.8 L249.0,484.6 L249.4,484.3 L249.7,483.3 L250.1,482.5 L250.5,481.4 L250.8,482.3 L251.2,480.3 L251.6,481.8 L251.9,480.6 L252.3,478.2 L252.6,477.5 L253.0,477.1 L253.3,478.1 L253.7,475.5 L254.0,474.2 L254.4,474.7 L254.7,474.3 L255.1,472.7 L255.4,473.9 L255.8,472.0 L256.1,471.5 L256.5,469.7 L256.8,469.6 L257.1,468.8 L257.5,466.3 L257.8,467.7 L258.1,465.2 L258.5,465.9 L258.8,464.0 L259.2,466.2 L259.5,464.0 L259.8,463.7 L260.1,463.1 L260.5,460.5 L260.8,459.0 L261.1,459.8 L261.4,460.1 L261.8,458.7 L262.1,458.5 L262.4,457.9 L262.7,455.2 L263.1,455.9 L263.4,456.5 L263.7,453.7 L264.0,451.8 L264.3,452.5 L264.6,451.6 L264.9,451.6 L265.3,449.7 L265.6,449.8 L265.9,447.2 L266.2,448.9 L266.5,448.8 L266.8,447.8 L267.1,444.8 L267.4,445.5 L267.7,442.1 L268.0,444.0 L268.3,443.0 L268.6,441.5 L268.9,441.8 L269.2,440.9 L269.5,440.8 L269.8,439.4 L270.1,438.7 L270.4,436.2 L270.7,436.1 L271.0,435.9 L271.3,435.8 L271.6,434.8 L271.9,435.3 L272.2,432.6 L272.4,432.3 L272.7,432.0 L273.0,430.8 L273.3,430.7 L273.6,429.0 L273.9,429.9 L274.2,427.7 L274.4,428.2 L274.7,426.5 L275.0,427.0 L275.3,423.8 L275.6,424.7 L275.8,423.1 L276.1,422.9 L276.4,422.9 L276.7,420.3 L277.0,419.4 L277.2,418.9 L277.5,419.1 L277.8,416.6 L278.1,417.5 L278.3,415.6 L278.6,415.0 L278.9,414.8 L279.1,414.7 L279.4,413.1 L279.7,412.5 L279.9,412.1 L280.2,411.1 L280.5,408.4 L280.7,409.5 L281.0,409.1 L281.3,409.2 L281.5,409.2 L281.8,407.3 L282.1,406.1 L282.3,404.5 L282.6,404.6 L282.9,404.4 L283.1,404.0 L283.4,401.5 L283.6,401.7 L283.9,401.4 L284.1,401.5 L284.4,399.4 L284.7,398.0 L284.9,397.1 L285.2,396.6 L285.4,395.6 L285.7,396.1 L285.9,395.5 L286.2,394.5 L286.4,394.1 L286.7,392.0 L286.9,391.9 L287.2,390.5 L287.5,390.1 L287.7,390.3 L288.0,388.5 L288.2,386.3 L288.5,386.8 L288.7,385.7 L288.9,384.3 L289.2,384.1 L289.4,384.8 L289.7,384.6 L289.9,382.1 L290.2,382.5 L290.4,381.9 L290.7,379.2 L290.9,379.4 L291.2,378.6 L291.4,378.0 L291.6,375.8 L291.9,376.1 L292.1,376.5 L292.4,375.9 L292.6,375.6 L292.9,373.0 L293.1,374.1 L293.3,372.3 L293.6,369.9 L293.8,370.9 L294.1,369.2 L294.3,369.2 L294.5,367.9 L294.8,368.2 L295.0,366.7 L295.2,365.5 L295.5,365.7 L295.7,364.4 L296.0,363.1 L296.2,363.7 L296.4,361.5 L296.7,360.6 L296.9,359.9 L297.1,358.4 L297.4,358.3 L297.6,359.6 L297.8,356.5 L298.1,356.5 L298.3,354.8 L298.5,354.5 L298.8,355.5 L299.0,354.2 L299.2,352.2 L299.5,351.9 L299.7,350.5 L299.9,349.7 L300.2,348.9 L300.4,348.1 L300.6,348.4 L300.9,347.8 L301.1,347.0 L301.3,345.6 L301.6,343.9 L301.8,344.2 L302.0,342.7 L302.2,343.4 L302.5,342.4 L302.7,341.8 L302.9,340.1 L303.2,338.2 L303.4,339.7 L303.6,339.1 L303.8,336.1 L304.1,336.7 L304.3,336.8 L304.5,334.2 L304.7,335.7 L305.0,333.2 L305.2,331.9 L305.4,333.1 L305.7,331.5 L305.9,329.9 L306.1,330.4 L306.3,327.3 L306.6,329.6 L306.8,326.7 L307.0,326.8 L307.2,325.5 L307.5,325.4 L307.7,325.0 L307.9,322.9 L308.1,323.4 L308.4,321.8 L308.6,320.7 L308.8,320.3 L309.0,318.9 L309.3,318.3 L309.5,318.9 L309.7,317.3 L309.9,317.6 L310.1,316.2 L310.4,314.3 L310.6,312.8 L310.8,313.0 L311.0,313.0 L311.3,312.0 L311.5,310.6 L311.7,311.3 L311.9,308.3 L312.1,307.9 L312.4,308.3 L312.6,309.2 L312.8,307.0 L313.0,305.0 L313.3,305.6 L313.5,304.9 L313.7,304.3 L313.9,302.5 L314.1,301.4 L314.4,301.4 L314.6,300.8 L314.8,301.0 L315.0,300.7 L315.2,297.6 L315.5,297.0 L315.7,296.6 L315.9,295.7 L316.1,295.5 L316.3,294.7 L316.6,293.8 L316.8,293.9 L317.0,291.9 L317.2,290.4 L317.5,289.2 L317.7,288.9 L317.9,288.1 L318.1,286.6 L318.3,288.0 L318.6,286.8 L318.8,285.5 L319.0,284.4 L319.2,283.0 L319.4,282.8 L319.6,284.3 L319.9,280.2 L320.1,281.4 L320.3,281.1 L320.5,279.8 L320.7,278.7 L321.0,278.8 L321.2,276.5 L321.4,277.1 L321.6,277.1 L321.8,274.3 L322.1,273.7 L322.3,273.7 L322.5,273.6 L322.7,273.1 L322.9,271.8 L323.2,269.9 L323.4,268.8 L323.6,269.2 L323.8,268.5 L324.0,266.5 L324.3,266.7 L324.5,266.1 L324.7,266.0 L324.9,263.5 L325.1,264.0 L325.3,261.8 L325.6,261.7 L325.8,261.2 L326.0,261.7 L326.2,262.4 L326.4,259.2 L326.7,258.6 L326.9,258.2 L327.1,255.5 L327.3,256.5 L327.5,254.1 L327.8,255.7 L328.0,254.7 L328.2,253.2 L328.4,251.4 L328.6,252.6 L328.9,250.7 L329.1,249.8 L329.3,249.4 L329.5,246.8 L329.7,247.8 L329.9,247.5 L330.2,246.1 L330.4,245.2 L330.6,243.5 L330.8,244.1 L331.0,243.0 L331.3,242.0 L331.5,240.8 L331.7,241.2 L331.9,240.7 L332.1,239.3 L332.4,238.9 L332.6,238.5 L332.8,237.9 L333.0,236.1 L333.2,234.9 L333.5,234.0 L333.7,233.6 L333.9,233.2 L334.1,232.8 L334.3,230.9 L334.6,230.6 L334.8,228.9 L335.0,230.0 L335.2,227.9 L335.4,227.7 L335.7,226.0 L335.9,225.6 L336.1,224.5 L336.3,225.7 L336.5,223.9 L336.8,222.7 L337.0,221.2 L337.2,220.8 L337.4,221.0 L337.6,221.1 L337.9,217.8 L338.1,217.4 L338.3,217.3 L338.5,216.1 L338.8,214.5 L339.0,215.1 L339.2,215.0 L339.4,212.3 L339.6,213.0 L339.9,212.8 L340.1,212.1 L340.3,210.2 L340.5,211.6 L340.8,209.4 L341.0,207.5 L341.2,208.2 L341.4,205.7 L341.6,206.6 L341.9,204.1 L342.1,205.0 L342.3,203.1 L342.5,203.7 L342.8,202.7 L343.0,201.6 L343.2,200.6 L343.4,200.6 L343.7,197.5 L343.9,198.6 L344.1,197.8 L344.3,197.1 L344.6,196.6 L344.8,198.2 L345.0,194.5 L345.2,194.3 L345.5,193.0 L345.7,193.3 L345.9,189.7 L346.1,191.9 L346.4,189.2 L346.6,187.2 L346.8,187.4 L347.0,187.3 L347.3,186.8 L347.5,185.9 L347.7,185.8 L348.0,184.4 L348.2,183.6 L348.4,181.2 L348.6,182.5 L348.9,182.1 L349.1,180.2 L349.3,178.3 L349.6,178.0 L349.8,179.6 L350.0,177.0 L350.2,176.2 L350.5,175.3 L350.7,175.7 L350.9,174.0 L351.2,173.0 L351.4,171.7 L351.6,172.0 L351.9,172.1 L352.1,170.5 L352.3,170.5 L352.6,169.2 L352.8,168.4 L353.0,167.7 L353.3,166.8 L353.5,166.8 L353.7,165.6 L354.0,164.0 L354.2,163.8 L354.4,162.9 L354.7,162.5 L354.9,161.6 L355.1,161.0 L355.4,158.8 L355.6,159.4 L355.9,159.3 L356.1,156.6 L356.3,158.0 L356.6,156.3 L356.8,155.2 L357.0,153.2 L357.3,154.6 L357.5,152.3 L357.8,151.9 L358.0,151.9 L358.3,150.0 L358.5,149.3 L358.7,148.4 L359.0,148.4 L359.2,148.1 L359.5,147.2 L359.7,146.4 L359.9,145.2 L360.2,144.7 L360.4,143.4 L360.7,144.5 L360.9,142.5 L361.2,140.2 L361.4,140.1 L361.7,141.2 L361.9,138.4 L362.2,138.2 L362.4,138.1 L362.7,136.3 L362.9,137.0 L363.2,136.6 L363.4,134.2 L363.7,134.7 L363.9,132.6 L364.2,131.8 L364.4,131.9 L364.7,131.1 L364.9,129.8 L365.2,130.0 L365.4,127.7 L365.7,127.4 L366.0,126.5 L366.2,126.9 L366.5,126.2 L366.7,125.3 L367.0,123.3 L367.2,123.5 L367.5,122.9 L367.8,120.8 L368.0,120.6 L368.3,120.8 L368.6,120.0 L368.8,119.0 L369.1,118.4 L369.3,117.5 L369.6,116.7 L369.9,115.8 L370.1,114.5 L370.4,114.2 L370.7,113.3 L371.0,114.2 L371.2,112.2 L371.5,111.3 L371.8,110.4 L372.0,109.7 L372.3,108.9 L372.6,108.6 L372.9,107.5 L373.1,107.3 L373.4,105.6 L373.7,105.5 L374.0,105.0 L374.2,103.1 L374.5,103.1 L374.8,102.4 L375.1,101.4 L375.4,100.5 L375.6,99.0 L375.9,99.9 L376.2,98.0 L376.5,97.1 L376.8,97.4 L377.1,95.3 L377.4,96.1 L377.6,95.0 L377.9,94.4 L378.2,93.2 L378.5,92.0 L378.8,90.9 L379.1,91.8 L379.4,90.1 L379.7,89.3 L380.0,89.6 L380.3,87.8 L380.6,87.3 L380.9,86.5 L381.2,85.8 L381.5,84.7 L381.8,84.1 L382.1,84.3 L382.4,83.3 L382.7,80.8 L383.0,80.5 L383.3,80.9 L383.6,79.9 L383.9,79.1 L384.2,78.9 L384.5,77.0 L384.8,77.5 L385.1,76.3 L385.4,75.8 L385.7,74.9 L386.0,74.4 L386.3,73.2 L386.7,72.3 L387.0,72.1 L387.3,71.2 L387.6,69.9 L387.9,70.1 L388.2,69.3 L388.5,68.7 L388.8,67.4 L389.1,66.8 L389.4,65.8 L389.8,64.8 L390.1,64.5 L390.4,63.8 L390.7,62.8 L391.0,62.9 L391.3,61.0 L391.7,60.5 L392.0,59.9 L392.3,59.7 L392.6,58.5 L393.0,57.8 L393.3,56.9 L393.6,56.2 L394.0,55.4 L394.3,55.3 L394.7,54.4 L395.0,53.8 L395.4,52.7 L395.7,52.7 L396.1,51.2 L396.5,50.3 L396.8,49.9 L397.2,49.3 L397.6,48.7 L397.9,47.7 L398.3,47.2 L398.7,46.7 L399.1,45.6 L399.5,45.0 L399.8,44.3 L400.2,43.7 L400.6,43.0 L401.0,42.3 L401.4,41.6 L401.8,41.0 L402.2,40.2 L402.6,39.5 L403.0,38.7 L403.4,38.0 L403.8,37.4 L404.2,36.6 L404.6,36.1 L405.0,35.5 L405.5,34.7 L405.9,33.9 L406.3,33.2 L406.7,32.7 L407.1,31.8 L407.6,31.2 L408.0,30.5 L408.4,29.9 L408.9,29.3 L409.3,28.5 L409.8,27.8 L410.2,27.4 L410.7,26.6 L411.2,26.0 L411.6,25.3 L412.1,24.8 L412.6,24.2 L413.1,23.6 L413.6,22.8 L414.2,22.2 L414.7,21.6 L415.2,21.0 L415.7,20.5 L416.3,19.7 L416.8,19.0 L417.3,18.7 L417.9,18.1 L418.5,17.5 L419.0,17.1 L419.6,16.4 L420.2,15.8 L420.8,15.3 L421.4,14.7 L422.0,14.3 L422.6,13.7 L423.2,13.3 L423.9,12.8 L424.5,12.4 L425.2,11.8 L425.9,11.6 L426.6,11.0 L427.3,11.0 L428.0,10.7 L428.8,10.6 L429.5,10.2 L430.3,9.9 L431.0,9.6 L431.8,9.8 L432.6,9.4 L433.4,9.5 L434.2,9.1 L435.0,9.3 L435.7,9.3 L436.5,9.3 L437.3,9.3 L438.1,9.3 L438.9,9.3 L439.7,9.6 L440.5,9.6 L441.3,9.7 L442.0,9.9 L442.8,10.0 L443.6,10.4 L444.3,10.6 L445.0,10.7 L445.8,11.1 L446.5,11.4 L447.2,11.6 L447.9,12.2 L448.6,12.5 L449.3,12.7 L450.0,13.3 L450.7,13.7 L451.4,13.9 L452.1,14.5 L452.7,14.9 L453.4,15.3 L454.1,15.8 L454.7,16.2 L455.4,16.5 L456.1,17.0 L456.7,17.6 L457.4,18.1 L458.0,18.5 L458.7,18.9 L459.4,19.4 L460.0,20.0 L460.7,20.3 L461.3,20.7 L462.0,21.2 L462.7,21.8 L463.3,22.0 L464.0,22.5 L464.7,23.0 L465.3,23.3 L466.0,23.9 L466.7,24.1 L467.4,24.9 L468.0,25.1 L468.7,25.5 L469.4,26.0 L470.0,26.3 L470.7,26.9 L471.4,27.4 L472.1,27.7 L472.7,28.1 L473.4,28.7 L474.1,29.0 L474.8,29.4 L475.5,29.9 L476.1,30.4 L476.8,30.7 L477.5,31.1 L478.2,31.7 L478.9,31.7 L479.5,32.4 L480.2,32.6 L480.9,33.0 L481.6,33.8 L482.3,34.1 L483.0,34.6 L483.6,34.8 L484.3,35.3 L485.0,35.6 L485.7,36.0 L486.4,36.5 L487.1,36.9 L487.8,37.5 L488.4,37.7 L489.1,38.2 L489.8,38.6 L490.5,39.0 L491.2,39.3 L491.8,40.0 L492.5,40.2 L493.2,40.7 L493.9,41.1 L494.6,41.7 L495.2,42.0 L495.9,42.4 L496.6,42.9 L497.3,43.3 L497.9,43.8 L498.6,44.2 L499.2,44.8 L499.9,45.2 L500.6,45.6 L501.2,45.9 L501.8,46.7 L502.5,47.2 L503.1,47.4 L503.7,47.9 L504.4,48.2 L505.0,49.0 L505.6,49.4 L506.2,50.2 L506.8,50.3 L507.4,51.1 L507.9,51.7 L508.5,52.1 L509.1,52.7 L509.6,53.4 L510.2,53.9 L510.7,54.5 L511.2,55.1 L511.7,55.7 L512.3,56.3 L512.8,57.0 L513.2,57.5 L513.7,58.2 L514.2,58.8 L514.7,59.6 L515.1,60.0 L515.6,60.9 L516.0,61.2 L516.4,62.1 L516.8,62.7 L517.3,63.7 L517.7,64.3 L518.1,64.8 L518.4,65.6 L518.8,66.5 L519.2,67.0 L519.6,67.8 L519.9,68.3 L520.3,69.0 L520.6,70.0 L521.0,70.8 L521.3,71.3 L521.6,72.1 L521.9,72.7 L522.2,73.7 L522.6,74.2 L522.8,75.0 L523.1,75.6 L523.4,76.5 L523.7,77.3 L524.0,78.1 L524.2,78.6 L524.5,79.6 L524.8,80.2 L525.0,81.0 L525.3,81.7 L525.5,82.3 L525.8,83.1 L526.0,84.2 L526.3,84.7 L526.5,85.5 L526.8,86.4 L527.0,86.9 L527.2,87.9 L527.4,88.6 L527.7,89.4 L527.9,90.2 L528.1,90.9 L528.4,91.6 L528.6,92.5 L528.8,93.3 L529.0,93.9 L529.2,94.7 L529.5,95.4 L529.7,96.4 L529.9,96.9 L530.1,97.8 L530.3,98.8 L530.5,99.4 L530.8,100.1 L531.0,100.8 L531.2,101.6 L531.4,102.5 L531.6,103.3 L531.8,104.0 L532.0,105.0 L532.2,105.5 L532.4,106.3 L532.6,107.1 L532.8,107.9 L533.0,108.7 L533.2,109.4 L533.4,110.3 L533.6,111.0 L533.8,111.7 L534.0,112.3 L534.2,113.4 L534.4,114.0 L534.5,114.8 L534.7,115.6 L534.9,116.3 L535.1,117.1 L535.3,118.0 L535.5,118.7 L535.7,119.5 L535.8,120.2 L536.0,121.0 L536.2,121.7 L536.4,122.6 L536.6,123.4 L536.7,124.2 L536.9,124.8 L537.1,125.7 L537.3,126.5 L537.4,127.4 L537.6,128.1 L537.8,128.8 L538.0,129.5 L538.1,130.6 L538.3,131.1 L538.5,131.9 L538.6,132.8 L538.8,133.4 L539.0,134.5 L539.1,135.1 L539.3,136.0 L539.5,136.6 L539.6,137.4 L539.8,138.3 L540.0,139.1 L540.1,140.1 L540.3,140.7 L540.4,141.2 L540.6,142.2 L540.8,142.9 L540.9,143.9 L541.1,144.5 L541.2,145.4 L541.4,146.1 L541.6,146.9 L541.7,147.8 L541.9,148.4 L542.0,149.0 L542.2,149.9 L542.3,151.0 L542.5,151.6 L542.7,152.3 L542.8,153.1 L543.0,154.1 L543.1,154.8 L543.3,155.5 L543.4,156.2 L543.6,157.1 L543.7,157.8 L543.9,158.7 L544.0,159.6 L544.2,160.0 L544.3,160.9 L544.5,161.8 L544.6,162.6 L544.8,163.2 L544.9,164.1 L545.1,164.9 L545.2,165.7 L545.4,166.5 L545.5,167.3 L545.6,168.2 L545.8,169.0 L545.9,169.7 L546.1,170.5 L546.2,171.2 L546.4,172.0 L546.5,172.9 L546.7,173.6 L546.8,174.5 L546.9,175.2 L547.1,176.0 L547.2,176.8 L547.4,177.4 L547.5,178.3 L547.6,179.1 L547.8,180.0 L547.9,180.6 L548.1,181.5 L548.2,182.2 L548.3,183.1 L548.5,183.9 L548.6,184.6 L548.8,185.4 L548.9,186.2 L549.0,187.1 L549.2,187.7 L549.3,188.6 L549.4,189.3 L549.6,190.0 L549.7,190.9 L549.9,191.8 L550.0,192.4 L550.1,193.5 L550.3,194.0 L550.4,194.9 L550.5,195.7 L550.7,196.3 L550.8,197.2 L550.9,197.9 L551.1,198.8 L551.2,199.7 L551.3,200.6 L551.5,201.3 L551.6,201.8 L551.7,202.7 L551.8,203.7 L552.0,204.4 L552.1,205.3 L552.2,205.8 L552.4,206.7 L552.5,207.4 L552.6,208.2 L552.8,209.2 L552.9,209.8 L553.0,210.7 L553.1,211.5 L553.3,212.3 L553.4,213.0 L553.5,213.8 L553.6,214.8 L553.8,215.3 L553.9,216.3 L554.0,217.1 L554.1,217.8 L554.3,218.7 L554.4,219.1 L554.5,220.1 L554.6,220.8 L554.8,221.7 L554.9,222.5 L555.0,223.3 L555.1,224.0 L555.2,225.0 L555.4,225.5 L555.5,226.6 L555.6,227.2 L555.7,227.9 L555.9,228.7 L556.0,229.4 L556.1,230.3 L556.2,231.2 L556.3,232.1 L556.4,232.9 L556.6,233.4 L556.7,234.1 L556.8,235.1 L556.9,235.8 L557.0,236.7 L557.2,237.5 L557.3,238.6 L557.4,238.9 L557.5,239.9 L557.6,240.9 L557.7,241.5 L557.8,242.2 L558.0,243.2 L558.1,243.7 L558.2,244.5 L558.3,245.3 L558.4,246.3 L558.5,247.1 L558.6,247.8 L558.8,248.8 L558.9,249.4 L559.0,250.2 L559.1,251.0 L559.2,251.9 L559.3,252.6 L559.4,253.3 L559.5,254.3 L559.6,255.1 L559.7,255.9 L559.9,256.4 L560.0,257.2 L560.1,258.1 L560.2,258.9 L560.3,259.7 L560.4,260.5 L560.5,261.4 L560.6,262.0 L560.7,262.9 L560.8,263.6 L560.9,264.4 L561.0,265.2 L561.2,266.1 L561.3,266.9 L561.4,267.6 L561.5,268.5 L561.6,269.2 L561.7,270.1 L561.8,270.8 L561.9,271.7 L562.0,272.4 L562.1,273.1 L562.2,273.9 L562.3,274.6 L562.4,275.6 L562.5,276.3 L562.6,277.1 L562.7,278.0 L562.8,278.9 L562.9,279.8 L563.0,280.3 L563.1,281.3 L563.2,282.0 L563.3,282.8 L563.4,283.5 L563.5,284.2 L563.6,285.2 L563.7,286.0 L563.8,286.5 L563.9,287.5 L564.0,288.3 L564.1,289.1 L564.2,289.8 L564.3,290.6 L564.4,291.6 L564.5,292.4 L564.6,293.1 L564.7,293.9 L564.8,294.6 L564.9,295.5 L565.0,296.2 L565.1,297.0 L565.2,297.8 L565.3,298.6 L565.4,299.5 L565.5,300.2 L565.6,301.1 L565.7,301.7 L565.8,302.6 L565.9,303.0 L566.0,304.0 L566.1,304.9 L566.2,305.6 L566.3,306.6 L566.4,307.4 L566.5,308.0 L566.6,308.9 L566.7,309.6 L566.8,310.4 L566.9,311.3 L566.9,311.9 L567.0,313.0 L567.1,313.6 L567.2,314.6 L567.3,315.3 L567.4,316.1 L567.5,316.8 L567.6,317.6 L567.7,318.4 L567.8,319.3 L567.9,320.2 L568.0,320.8 L568.1,321.6 L568.2,322.5 L568.3,323.3 L568.4,324.0 L568.5,324.8 L568.6,325.5 L568.7,326.4 L568.8,327.2 L568.9,327.9 L568.9,328.8 L569.0,329.7 L569.1,330.4 L569.2,331.1 L569.3,332.0 L569.4,332.8 L569.5,333.6 L569.6,334.4 L569.7,335.1 L569.8,336.0 L569.9,336.8 L570.0,337.5 L570.1,338.1 L570.2,339.1 L570.3,339.9 L570.4,340.7 L570.5,341.5 L570.6,342.3 L570.7,342.9 L570.8,343.7 L570.9,344.4 L570.9,345.4 L571.0,346.4 L571.1,347.2 L571.2,347.7 L571.3,348.7 L571.4,349.6 L571.5,350.2 L571.6,350.8 L571.7,352.0 L571.8,352.6 L571.9,353.4 L572.0,354.4 L572.1,355.0 L572.2,355.9 L572.3,356.7 L572.4,357.4 L572.5,358.1 L572.6,359.0 L572.7,359.8 L572.8,360.6 L572.9,361.4 L573.0,362.1 L573.1,362.9 L573.2,363.7 L573.3,364.5 L573.4,365.3 L573.5,366.1 L573.6,366.9 L573.7,367.6 L573.8,368.6 L573.9,369.1 L574.0,370.3 L574.1,370.8 L574.2,371.7 L574.3,372.6 L574.4,373.2 L574.5,373.9 L574.6,374.7 L574.7,375.7 L574.8,376.5 L574.9,377.3 L575.0,378.0 L575.1,378.8 L575.2,379.7 L575.3,380.5 L575.4,381.1 L575.5,382.3 L575.6,382.7 L575.7,383.7 L575.8,384.6 L575.9,385.3 L576.0,386.0 L576.1,386.8 L576.2,387.7 L576.3,388.1 L576.4,389.2 L576.5,389.9 L576.6,390.6 L576.7,391.5 L576.8,392.3 L577.0,393.1 L577.1,393.8 L577.2,394.8 L577.3,395.3 L577.4,396.2 L577.5,396.9 L577.6,397.9 L577.7,398.6 L577.8,399.5 L577.9,400.1 L578.0,401.1 L578.1,401.9 L578.2,402.5 L578.4,403.2 L578.5,404.1 L578.6,404.8 L578.7,405.9 L578.8,406.6 L578.9,407.2 L579.0,408.3 L579.1,408.9 L579.2,409.5 L579.3,410.6 L579.5,411.4 L579.6,412.1 L579.7,412.8 L579.8,413.8 L579.9,414.4 L580.0,415.3 L580.1,416.1 L580.2,416.9 L580.4,417.6 L580.5,418.3 L580.6,419.3 L580.7,419.8 L580.8,420.9 L580.9,421.6 L581.0,422.5 L581.2,423.2 L581.3,424.0 L581.4,424.9 L581.5,425.5 L581.6,426.4 L581.7,427.2 L581.9,427.8 L582.0,428.6 L582.1,429.7 L582.2,430.4 L582.3,431.0 L582.5,432.0 L582.6,432.7 L582.7,433.6 L582.8,434.4 L582.9,434.8 L583.1,435.8 L583.2,436.8 L583.3,437.6 L583.4,438.2 L583.5,438.9 L583.7,439.8 L583.8,440.5 L583.9,441.4 L584.0,442.1 L584.2,443.0 L584.3,443.8 L584.4,444.6 L584.5,445.2 L584.6,446.0 L584.8,446.8 L584.9,447.8 L585.0,448.0 L585.1,449.5 L585.3,450.6 L585.4,450.7 L585.5,451.6 L585.7,452.7 L585.8,453.5 L585.9,453.8 L586.0,454.8 L586.2,455.6 L586.3,456.3 L586.4,457.4 L586.6,458.1 L586.7,459.2 L586.8,459.0 L586.9,460.7 L587.1,461.4 L587.2,461.9 L587.3,462.8 L587.5,463.8 L587.6,464.4 L587.7,465.0 L587.9,466.0 L588.0,466.5 L588.1,467.1 L588.3,468.0 L588.4,468.8 L588.5,469.9 L588.7,470.8 L588.8,471.5 L588.9,472.6 L589.1,472.9 L589.2,473.6 L589.3,474.3 L589.5,475.1 L589.6,476.0 L589.8,477.3 L589.9,477.3 L590.0,478.7 L590.2,479.3 L590.3,480.3 L590.5,480.7 L590.6,481.9 L590.7,482.3 L590.9,483.4 L591.0,483.4 L591.2,484.9 L591.3,485.8 L591.4,485.9 L591.6,487.4 L591.7,487.6 L591.9,489.0 L592.0,489.5 L592.2,490.5 L592.3,491.2 L592.5,491.5 L592.6,493.1 L592.8,493.8 L592.9,493.9 L593.1,495.2 L593.2,496.0 L593.4,496.4 L593.5,497.1 L593.7,498.6 L593.8,498.8 L594.0,500.0 L594.1,501.1 L594.3,501.5 L594.4,501.8 L594.6,503.2 L594.7,503.3 L594.9,504.2 L595.1,506.1 L595.2,505.8 L595.4,506.9 L595.5,507.3 L595.7,508.3 L595.9,509.2 L596.0,509.1 L596.2,510.5 L596.3,511.7 L596.5,512.5 L596.7,513.2 L596.8,513.6 L597.0,514.8 L597.2,515.3 L597.4,516.0 L597.5,517.0 L597.7,518.4 L597.9,518.3 L598.0,519.6 L598.2,520.2 L598.4,520.4 L598.6,521.4 L598.7,522.4 L598.9,523.1 L599.1,524.1 L599.3,524.5 L599.5,525.3 L599.6,526.6 L599.8,527.1 L600.0,527.6 L600.2,528.7 L600.4,530.0 L600.6,530.1 L600.8,530.6 L601.0,532.1 L601.1,533.1 L601.3,533.7 L601.5,533.7 L601.7,534.3 L601.9,536.0 L602.1,536.4 L602.3,537.4 L602.5,537.9 L602.7,539.3 L602.9,539.6 L603.1,540.2 L603.3,541.1 L603.5,541.5 L603.8,542.7 L604.0,543.4 L604.2,543.5 L604.4,544.6 L604.6,545.3 L604.8,546.0 L605.0,547.3 L605.3,548.3 L605.5,548.9 L605.7,549.1 L605.9,549.8 L606.1,551.3 L606.4,551.8 L606.6,552.6 L606.8,553.0 L607.1,553.5 L607.3,555.6 L607.5,555.5 L607.8,556.4 L608.0,556.9 L608.3,558.4 L608.5,558.6 L608.8,559.4 L609.0,560.2 L609.3,561.0 L609.5,562.2 L609.8,562.0 L610.1,563.4 L610.3,563.8 L610.6,564.6 L610.9,565.3 L611.2,566.4 L611.5,566.6 L611.7,567.6 L612.0,568.7 L612.3,569.1 L612.6,569.8 L612.9,570.8 L613.2,571.5 L613.5,572.1 L613.8,572.9 L614.2,573.4 L614.5,574.6 L614.8,574.8 L615.1,575.3 L615.5,576.7 L615.8,576.9 L616.2,577.7 L616.5,578.6 L616.9,579.6 L617.3,580.0 L617.6,580.7 L618.0,581.4 L618.4,582.4 L618.8,582.8 L619.2,583.7 L619.6,584.7 L620.0,585.0 L620.4,585.6 L620.8,586.1 L621.2,586.9 L621.6,587.4 L622.0,588.1 L622.5,589.0 L622.9,589.9 L623.4,590.6 L623.8,591.0 L624.3,591.9 L624.8,592.0 L625.2,593.7 L625.7,594.4 L626.2,594.3 L626.7,595.1 L627.3,595.5 L627.8,596.3 L628.3,596.5 L628.9,596.8 L629.5,598.1 L630.0,598.0 L630.6,599.0 L631.2,599.2 L631.8,599.7 L632.4,600.7 L633.1,601.4 L633.7,601.3 L634.4,601.7 L635.0,602.3 L635.7,602.5 L636.4,602.5 L637.1,603.4 L637.8,603.1 L638.5,604.2 L639.3,604.3 L640.0,604.8 L640.7,604.6 L641.5,605.1 L642.2,605.7 L643.0,606.2 L643.8,606.3 L644.5,606.4 L645.3,606.1 L646.1,606.9 L646.8,606.9 L647.6,607.0 L648.4,607.6 L649.2,607.2 L650.0,608.1 L650.8,607.5 L651.6,607.6 L652.3,607.9 L653.1,607.7 L653.9,608.0 L654.7,608.3 L655.5,607.8 L656.3,608.1 L657.1,608.0 L657.9,608.4 L658.7,608.9 L659.5,608.4 L660.3,608.5 L661.1,608.7 L661.9,608.3 L662.7,608.7 L663.5,608.5 L664.3,608.5 L665.1,608.1 L665.9,608.4 L666.7,608.9 L667.5,609.0 L668.3,608.5 L669.1,608.6 L669.9,608.4 L670.7,608.2 L671.5,607.9 L672.3,608.9 L673.1,608.1 L673.9,608.4 L674.7,608.7 L675.5,608.1 L676.3,608.1 L677.1,608.2 L677.9,607.9 L678.7,608.0 L679.5,607.8 L680.3,608.2 L681.1,607.9 L681.9,607.4 L682.7,607.3 L683.5,607.4 L684.3,607.4 L685.0,607.3 L685.8,607.7 L686.6,607.2 L687.4,607.2 L688.2,607.3 L689.0,606.6 L689.8,607.3 L690.6,607.2 L691.4,607.4 L692.2,606.6 L693.0,606.7 L693.8,606.8 L694.6,606.6 L695.4,606.2 L696.2,606.8 L697.0,606.4 L697.8,606.5 L698.6,606.0 L699.4,606.5 L700.2,606.1 L701.0,605.9 L701.8,606.3 L702.6,606.3 L703.4,605.6 L704.2,606.1 L705.0,606.2 L705.8,605.7 L706.6,605.2 L707.4,605.7 L708.2,605.8 L709.0,605.1 L709.8,605.8 L710.5,605.2 L711.3,605.1 L712.1,605.5 L712.9,605.1 L713.7,605.4 L714.5,605.0 L715.3,605.0 L716.1,604.9 L716.9,604.9 L717.7,604.9 L718.5,604.8 L719.3,604.6 L720.1,604.9 L720.9,604.5 L721.7,604.9 L722.4,604.7 L723.2,604.4 L723.9,604.2 L724.6,604.4 L725.3,604.7 L725.9,604.3 L726.5,604.6 L727.0,604.2 L727.5,604.1 L727.9,604.0" stroke="#0000ff" stroke-width="3.9"/>
<path d="M62.8,604.6 L63.1,605.6 L63.5,605.5 L64.0,605.5 L64.5,605.8 L65.1,605.1 L65.6,606.2 L66.2,604.9 L66.8,605.6 L67.4,605.0 L68.0,605.4 L68.6,606.0 L69.2,604.9 L69.8,605.6 L70.4,605.6 L71.0,605.6 L71.6,605.7 L72.2,605.9 L72.8,605.7 L73.4,605.7 L74.0,605.9 L74.6,605.8 L75.2,605.5 L75.8,605.0 L76.4,605.8 L77.0,605.3 L77.6,606.2 L78.2,605.2 L78.8,604.9 L79.4,605.9 L80.0,605.1 L80.6,604.8 L81.2,605.9 L81.8,604.8 L82.4,605.9 L83.0,604.9 L83.6,605.5 L84.2,605.4 L84.8,604.5 L85.4,605.3 L86.0,605.1 L86.6,605.3 L87.2,605.5 L87.8,605.9 L88.4,605.1 L89.0,605.1 L89.6,606.1 L90.2,605.5 L90.8,605.5 L91.4,604.5 L92.0,604.5 L92.6,604.9 L93.2,605.0 L93.8,605.3 L94.4,606.2 L95.0,604.5 L95.6,604.9 L96.2,605.3 L96.8,605.2 L97.4,605.5 L98.0,604.9 L98.6,604.7 L99.2,605.9 L99.8,605.2 L100.4,604.5 L101.0,604.9 L101.6,605.0 L102.2,604.4 L102.8,605.4 L103.4,605.1 L104.0,604.9 L104.6,604.8 L105.2,605.8 L105.8,605.1 L106.4,604.8 L107.0,604.3 L107.6,604.7 L108.2,605.4 L108.8,605.8 L109.4,604.7 L110.0,604.3 L110.6,605.2 L111.2,605.2 L111.8,605.6 L112.4,605.0 L113.0,605.3 L113.6,604.5 L114.2,604.8 L114.8,605.1 L115.4,605.2 L116.0,605.6 L116.6,605.9 L117.2,604.8 L117.8,606.1 L118.4,605.1 L119.0,605.3 L119.6,605.9 L120.2,604.5 L120.8,604.9 L121.4,605.1 L122.0,605.5 L122.6,606.0 L123.2,606.0 L123.8,605.1 L124.4,605.8 L125.0,605.4 L125.6,606.2 L126.2,605.4 L126.8,606.0 L127.4,605.1 L128.0,605.9 L128.6,605.0 L129.2,605.6 L129.8,604.8 L130.4,605.5 L131.0,605.2 L131.6,605.1 L132.2,605.6 L132.8,605.8 L133.4,605.5 L134.0,605.6 L134.6,605.8 L135.2,606.0 L135.8,605.9 L136.4,605.6 L137.0,606.2 L137.6,605.2 L138.2,605.7 L138.8,604.9 L139.4,606.4 L140.0,605.2 L140.6,605.4 L141.2,605.9 L141.8,605.2 L142.4,604.9 L143.0,604.5 L143.6,605.1 L144.2,606.1 L144.8,605.3 L145.4,605.9 L146.0,605.5 L146.6,605.0 L147.2,604.5 L147.8,605.0 L148.4,605.4 L149.0,605.0 L149.6,605.2 L150.2,605.3 L150.8,604.9 L151.4,604.4 L152.0,604.9 L152.6,605.3 L153.2,604.7 L153.8,604.6 L154.4,604.6 L155.0,604.9 L155.6,605.0 L156.2,605.0 L156.8,604.5 L157.4,605.0 L158.0,604.8 L158.6,604.6 L159.2,604.3 L159.8,604.6 L160.4,604.8 L161.0,605.1 L161.6,605.2 L162.2,605.1 L162.8,605.2 L163.4,604.6 L164.0,605.5 L164.6,605.5 L165.2,605.4 L165.8,605.0 L166.4,605.1 L167.0,605.0 L167.6,604.7 L168.2,605.1 L168.8,604.6 L169.4,604.5 L170.0,605.5 L170.6,605.5 L171.2,605.7 L171.8,605.1 L172.4,605.4 L173.0,605.6 L173.6,605.2 L174.2,604.5 L174.8,606.4 L175.4,605.9 L176.0,606.0 L176.6,605.5 L177.2,605.1 L177.8,605.5 L178.4,605.6 L179.0,604.9 L179.6,605.3 L180.2,605.8 L180.8,606.2 L181.4,605.8 L182.0,605.4 L182.6,605.0 L183.2,606.4 L183.8,605.6 L184.4,605.9 L185.0,605.6 L185.6,605.0 L186.2,606.5 L186.8,605.8 L187.4,606.0 L188.0,605.2 L188.6,605.5 L189.2,606.1 L189.8,605.3 L190.4,605.2 L191.0,605.0 L191.6,604.9 L192.2,605.8 L192.8,605.4 L193.4,604.7 L194.0,606.0 L194.6,605.9 L195.2,605.9 L195.8,604.6 L196.4,605.4 L197.0,605.9 L197.6,604.9 L198.2,605.0 L198.8,605.2 L199.4,604.4 L200.0,605.3 L200.6,605.6 L201.2,605.5 L201.8,605.8 L202.4,605.2 L203.0,605.2 L203.6,605.1 L204.2,604.8 L204.8,604.7 L205.4,604.8 L206.0,605.1 L206.6,604.9 L207.2,605.1 L207.8,605.1 L208.4,605.3 L209.0,604.8 L209.6,604.2 L210.2,604.6 L210.8,605.9 L211.4,605.4 L212.0,604.9 L212.6,605.0 L213.2,605.0 L213.8,604.9 L214.4,605.1 L215.0,605.4 L215.6,605.6 L216.2,604.9 L216.8,605.0 L217.4,605.0 L218.0,605.1 L218.6,605.6 L219.2,604.8 L219.8,606.1 L220.4,605.4 L221.0,605.6 L221.6,604.8 L222.2,605.0 L222.8,605.0 L223.4,605.2 L224.0,604.4 L224.6,605.5 L225.2,604.6 L225.8,605.4 L226.4,605.7 L227.0,605.3 L227.6,605.3 L228.2,605.3 L228.8,605.3 L229.4,605.5 L230.0,605.8 L230.6,605.7 L231.2,606.1 L231.8,605.5 L232.4,605.3 L233.0,605.3 L233.6,605.0 L234.2,605.4 L234.8,605.3 L235.4,606.3 L236.0,605.8 L236.6,606.3 L237.2,604.8 L237.8,605.7 L238.4,606.0 L239.0,605.7 L239.6,605.4 L240.2,605.7 L240.8,605.6 L241.4,605.6 L242.0,605.7 L242.6,606.0 L243.2,605.7 L243.8,605.7 L244.4,605.6 L245.0,605.8 L245.6,605.3 L246.2,605.8 L246.8,605.4 L247.4,605.9 L248.0,605.3 L248.6,605.5 L249.2,605.4 L249.8,605.0 L250.4,605.9 L251.0,605.6 L251.6,605.4 L252.2,605.9 L252.8,605.3 L253.4,605.4 L254.0,605.8 L254.6,606.4 L255.2,605.4 L255.8,606.0 L256.4,605.4 L257.0,604.9 L257.6,605.5 L258.2,605.8 L258.8,605.3 L259.4,605.4 L260.0,604.8 L260.6,604.2 L261.2,605.3 L261.8,604.6 L262.4,605.1 L263.0,604.8 L263.6,605.2 L264.2,605.5 L264.8,604.4 L265.4,605.0 L266.0,605.0 L266.6,605.6 L267.2,605.1 L267.8,604.7 L268.4,604.8 L269.0,605.8 L269.6,604.7 L270.2,605.1 L270.8,605.2 L271.4,604.6 L272.0,604.7 L272.6,604.2 L273.2,604.7 L273.8,605.4 L274.4,605.2 L275.0,604.3 L275.6,605.7 L276.2,604.6 L276.8,604.7 L277.4,605.8 L278.0,605.4 L278.6,605.1 L279.2,605.8 L279.8,605.2 L280.4,605.4 L281.0,605.0 L281.6,605.2 L282.2,605.2 L282.8,605.7 L283.4,605.0 L284.0,605.2 L284.6,604.4 L285.2,604.6 L285.8,605.6 L286.4,605.2 L287.0,605.2 L287.6,605.7 L288.2,605.3 L288.8,605.5 L289.4,605.3 L290.0,604.6 L290.6,605.7 L291.2,606.1 L291.8,606.0 L292.4,605.5 L293.0,605.6 L293.6,605.6 L294.2,606.1 L294.8,606.0 L295.4,605.3 L296.0,605.4 L296.6,605.4 L297.2,605.2 L297.8,605.2 L298.4,605.4 L299.0,604.5 L299.6,605.6 L300.2,605.3 L300.8,604.9 L301.4,605.4 L302.0,605.1 L302.6,605.9 L303.2,604.9 L303.8,605.4 L304.4,605.5 L305.0,605.0 L305.6,604.8 L306.2,605.5 L306.8,605.1 L307.4,604.9 L308.0,604.7 L308.6,605.5 L309.2,605.9 L309.8,605.0 L310.4,605.4 L311.0,605.6 L311.6,605.6 L312.2,604.9 L312.8,605.4 L313.4,605.4 L314.0,606.2 L314.6,605.2 L315.2,605.5 L315.8,605.4 L316.4,605.3 L317.0,604.6 L317.6,605.1 L318.2,605.6 L318.8,604.9 L319.4,605.1 L320.0,604.7 L320.6,605.1 L321.2,605.1 L321.8,605.2 L322.4,604.8 L323.0,604.8 L323.6,604.7 L324.2,605.0 L324.8,605.0 L325.4,605.9 L326.0,604.7 L326.6,605.2 L327.2,604.7 L327.8,604.7 L328.4,605.4 L329.0,605.1 L329.6,605.2 L330.2,604.4 L330.8,606.0 L331.4,605.8 L332.0,604.7 L332.6,604.4 L333.2,604.7 L333.8,605.1 L334.4,604.6 L335.0,605.1 L335.6,604.8 L336.2,606.2 L336.8,605.0 L337.4,604.9 L338.0,605.9 L338.6,605.2 L339.2,605.1 L339.8,605.1 L340.4,605.4 L341.0,605.0 L341.6,605.2 L342.2,605.0 L342.8,604.7 L343.4,605.1 L344.0,605.3 L344.6,605.9 L345.2,605.3 L345.8,605.1 L346.4,605.3 L347.0,605.5 L347.6,604.4 L348.2,605.1 L348.8,604.4 L349.4,604.6 L350.0,605.0 L350.6,605.3 L351.2,605.3 L351.8,605.4 L352.4,605.8 L353.0,605.5 L353.6,605.5 L354.2,605.2 L354.8,606.1 L355.4,605.8 L356.0,605.0 L356.6,605.0 L357.2,605.6 L357.8,605.7 L358.4,605.1 L359.0,605.7 L359.6,604.7 L360.2,605.1 L360.8,605.6 L361.4,604.9 L362.0,605.2 L362.6,605.1 L363.2,605.0 L363.8,604.3 L364.4,605.0 L365.0,605.1 L365.6,605.1 L366.2,605.3 L366.8,605.4 L367.4,604.8 L368.0,604.9 L368.6,605.6 L369.2,605.3 L369.8,604.9 L370.4,604.8 L371.0,605.3 L371.6,605.3 L372.2,604.8 L372.8,605.0 L373.4,604.8 L374.0,604.8 L374.6,605.5 L375.2,604.2 L375.8,605.0 L376.4,604.3 L377.0,604.4 L377.6,605.0 L378.2,604.1 L378.8,604.3 L379.4,604.2 L380.0,604.4 L380.6,604.8 L381.2,605.1 L381.8,604.4 L382.4,605.0 L383.0,604.1 L383.6,605.5 L384.2,604.4 L384.8,604.4 L385.4,604.7 L386.0,604.7 L386.6,604.6 L387.2,603.9 L387.8,605.0 L388.4,604.9 L389.0,604.5 L389.6,604.2 L390.2,604.8 L390.8,605.1 L391.4,603.9 L392.0,604.2 L392.6,604.7 L393.2,604.3 L393.8,604.5 L394.4,604.6 L395.0,605.0 L395.6,605.0 L396.2,605.1 L396.8,605.0 L397.4,604.4 L398.0,603.7 L398.6,604.8 L399.2,604.8 L399.8,604.8 L400.4,604.3 L401.0,605.4 L401.6,603.9 L402.2,604.9 L402.8,604.8 L403.4,604.9 L404.0,605.1 L404.6,604.7 L405.2,604.6 L405.8,604.3 L406.4,604.7 L407.0,604.5 L407.6,604.7 L408.2,603.8 L408.8,603.7 L409.4,604.3 L410.0,604.4 L410.6,603.5 L411.2,603.7 L411.8,603.9 L412.4,604.2 L413.0,604.1 L413.6,604.4 L414.2,603.8 L414.8,604.0 L415.4,604.3 L416.0,603.6 L416.6,604.6 L417.2,603.5 L417.8,603.6 L418.4,602.8 L419.0,603.4 L419.6,603.2 L420.2,603.1 L420.8,603.4 L421.4,602.8 L422.0,603.2 L422.6,602.3 L423.2,602.8 L423.8,603.5 L424.4,602.9 L425.0,603.0 L425.6,602.3 L426.2,602.1 L426.8,603.1 L427.4,602.9 L428.0,602.7 L428.6,602.3 L429.2,602.7 L429.8,601.9 L430.4,602.3 L431.0,602.2 L431.6,601.5 L432.2,602.3 L432.8,601.7 L433.4,601.9 L434.0,600.8 L434.6,600.9 L435.2,601.1 L435.8,601.4 L436.3,601.5 L436.9,601.1 L437.5,600.8 L438.1,601.0 L438.7,600.6 L439.3,600.6 L439.9,600.6 L440.4,600.1 L441.0,600.4 L441.6,599.5 L442.2,599.7 L442.8,600.2 L443.3,599.5 L443.9,599.9 L444.5,599.6 L445.1,599.3 L445.6,599.9 L446.2,599.3 L446.8,598.7 L447.4,598.5 L447.9,598.6 L448.5,597.8 L449.1,598.6 L449.6,597.9 L450.2,597.0 L450.7,597.1 L451.3,597.9 L451.9,597.2 L452.4,597.7 L453.0,596.6 L453.5,596.5 L454.1,596.9 L454.6,596.7 L455.1,595.2 L455.7,595.7 L456.2,594.6 L456.7,594.6 L457.2,593.8 L457.7,594.5 L458.3,593.5 L458.8,593.3 L459.3,594.1 L459.8,593.4 L460.3,592.6 L460.8,591.6 L461.3,592.2 L461.8,590.7 L462.3,591.0 L462.8,591.2 L463.2,590.9 L463.7,590.3 L464.2,589.9 L464.7,589.3 L465.1,588.5 L465.6,588.5 L466.0,588.8 L466.5,587.6 L466.9,587.4 L467.3,587.0 L467.7,585.8 L468.2,585.6 L468.6,584.9 L469.0,585.3 L469.4,584.5 L469.8,583.7 L470.2,583.3 L470.6,583.6 L471.0,583.2 L471.4,582.6 L471.8,581.9 L472.1,581.6 L472.5,580.9 L472.9,580.6 L473.2,579.8 L473.6,579.0 L473.9,578.6 L474.2,578.5 L474.5,578.6 L474.8,577.1 L475.1,576.4 L475.4,576.7 L475.7,576.2 L475.9,575.0 L476.2,574.5 L476.4,574.0 L476.6,573.8 L476.9,574.4 L477.1,572.3 L477.3,572.2 L477.5,571.3 L477.7,571.0 L477.9,570.5 L478.1,569.9 L478.3,568.8 L478.5,568.2 L478.6,568.4 L478.8,567.5 L479.0,566.9 L479.1,566.5 L479.3,565.3 L479.4,565.6 L479.5,564.1 L479.6,563.5 L479.8,562.9 L479.9,562.7 L480.0,563.2 L480.1,561.6 L480.2,561.1 L480.3,561.0 L480.4,559.6 L480.5,558.6 L480.6,558.3 L480.7,557.8 L480.8,556.7 L480.9,556.7 L480.9,556.2 L481.0,556.4 L481.1,555.3 L481.2,554.5 L481.2,553.6 L481.3,552.9 L481.4,551.9 L481.4,551.9 L481.5,550.5 L481.6,550.7 L481.6,550.9 L481.7,549.4 L481.7,549.2 L481.7,548.0 L481.8,547.0 L481.8,547.3 L481.9,546.5 L481.9,546.2 L481.9,545.5 L482.0,545.1 L482.0,544.0 L482.0,543.8 L482.0,543.4 L482.1,542.2 L482.1,541.7 L482.1,541.7 L482.2,540.8 L482.2,539.9 L482.2,538.8 L482.2,538.7 L482.3,538.9 L482.3,537.5 L482.3,537.0 L482.3,536.1 L482.3,535.8 L482.4,535.2 L482.4,534.8 L482.4,533.8 L482.4,533.0 L482.4,533.7 L482.5,532.3 L482.5,531.3 L482.5,531.0 L482.5,530.6 L482.5,530.3 L482.5,529.4 L482.6,528.5 L482.6,528.3 L482.6,526.9 L482.6,526.5 L482.6,526.8 L482.6,525.7 L482.7,525.0 L482.7,524.2 L482.7,523.4 L482.7,523.3 L482.7,522.7 L482.7,522.8 L482.8,521.1 L482.8,520.8 L482.8,520.1 L482.8,519.3 L482.8,519.8 L482.8,519.0 L482.8,517.9 L482.9,516.7 L482.9,516.8 L482.9,516.2 L482.9,515.2 L482.9,514.2 L482.9,515.0 L482.9,513.1 L483.0,513.5 L483.0,512.2 L483.0,511.7 L483.0,511.7 L483.0,510.2 L483.0,509.9 L483.0,509.4 L483.1,509.3 L483.1,508.7 L483.1,507.7 L483.1,506.5 L483.1,506.9 L483.1,505.7 L483.1,505.4 L483.1,503.9 L483.1,504.0 L483.2,503.7 L483.2,502.7 L483.2,502.5 L483.2,502.2 L483.2,501.7 L483.2,500.2 L483.2,499.2 L483.2,498.2 L483.2,498.5 L483.3,497.4 L483.3,497.6 L483.3,496.0 L483.3,496.7 L483.3,495.7 L483.3,494.4 L483.3,494.6 L483.3,494.1 L483.3,493.5 L483.4,492.6 L483.4,492.3 L483.4,491.7 L483.4,490.7 L483.4,490.3 L483.4,489.1 L483.4,489.4 L483.4,487.9 L483.4,487.8 L483.5,486.8 L483.5,487.0 L483.5,486.1 L483.5,485.0 L483.5,484.9 L483.5,484.1 L483.5,483.9 L483.5,483.0 L483.5,482.4 L483.6,481.7 L483.6,480.5 L483.6,480.8 L483.6,480.3 L483.6,479.0 L483.6,479.0 L483.6,478.7 L483.6,478.0 L483.7,477.6 L483.7,476.8 L483.7,475.7 L483.7,476.1 L483.7,474.7 L483.7,473.8 L483.7,474.1 L483.8,472.6 L483.8,472.6 L483.8,471.3 L483.8,471.6 L483.8,471.0 L483.9,469.7 L483.9,469.5 L483.9,469.0 L483.9,468.1 L483.9,467.7 L483.9,466.8 L484.0,466.0 L484.0,465.3 L484.0,465.2 L484.0,464.7 L484.0,464.2 L484.1,463.5 L484.1,463.0 L484.1,462.0 L484.1,462.2 L484.1,460.6 L484.2,460.6 L484.2,459.7 L484.2,459.0 L484.2,459.4 L484.2,458.1 L484.3,456.9 L484.3,456.9 L484.3,455.9 L484.3,456.3 L484.3,454.6 L484.3,454.4 L484.4,453.5 L484.4,452.9 L484.4,452.8 L484.4,452.4 L484.4,451.8 L484.4,450.7 L484.4,449.9 L484.5,449.8 L484.5,448.8 L484.5,449.0 L484.5,447.2 L484.5,447.3 L484.5,446.0 L484.5,445.5 L484.5,444.7 L484.5,444.2 L484.6,444.3 L484.6,443.2 L484.6,442.5 L484.6,441.8 L484.6,441.3 L484.6,440.9 L484.6,440.9 L484.6,439.9 L484.6,439.3 L484.6,438.7 L484.6,438.4 L484.7,437.1 L484.7,437.0 L484.7,435.9 L484.7,435.3 L484.7,435.4 L484.7,434.5 L484.7,433.8 L484.7,432.9 L484.7,432.9 L484.7,433.0 L484.7,431.7 L484.7,431.1 L484.8,430.3 L484.8,430.2 L484.8,429.0 L484.8,429.7 L484.8,428.0 L484.8,427.3 L484.8,427.2 L484.8,425.7 L484.8,425.2 L484.8,424.6 L484.8,424.2 L484.8,424.4 L484.9,422.7 L484.9,423.5 L484.9,422.3 L484.9,422.0 L484.9,420.8 L484.9,419.5 L484.9,419.0 L484.9,419.5 L484.9,418.2 L484.9,417.9 L484.9,417.3 L484.9,417.1 L484.9,416.5 L484.9,415.5 L485.0,414.8 L485.0,414.5 L485.0,413.1 L485.0,412.7 L485.0,411.8 L485.0,411.4 L485.0,410.5 L485.0,410.9 L485.0,409.8 L485.0,410.1 L485.0,408.6 L485.0,408.3 L485.0,407.3 L485.0,407.2 L485.1,406.6 L485.1,405.6 L485.1,405.3 L485.1,404.2 L485.1,403.7 L485.1,402.9 L485.1,403.1 L485.1,401.8 L485.1,401.1 L485.1,401.3 L485.1,400.3 L485.1,399.2 L485.1,398.7 L485.1,398.3 L485.1,397.5 L485.2,397.3 L485.2,396.2 L485.2,395.6 L485.2,395.8 L485.2,395.6 L485.2,394.9 L485.2,393.5 L485.2,393.3 L485.2,392.4 L485.2,392.6 L485.2,391.4 L485.2,390.9 L485.2,390.9 L485.2,390.0 L485.2,389.0 L485.2,387.9 L485.2,387.6 L485.3,386.5 L485.3,387.2 L485.3,385.9 L485.3,385.6 L485.3,384.8 L485.3,383.8 L485.3,383.6 L485.3,383.1 L485.3,382.3 L485.3,381.7 L485.3,381.3 L485.3,380.1 L485.3,379.9 L485.3,379.1 L485.3,378.4 L485.3,378.2 L485.3,376.6 L485.3,376.4 L485.4,376.2 L485.4,376.3 L485.4,375.4 L485.4,374.2 L485.4,374.5 L485.4,373.4 L485.4,372.4 L485.4,372.1 L485.4,372.1 L485.4,371.2 L485.4,370.0 L485.4,369.3 L485.4,369.4 L485.4,368.0 L485.4,367.7 L485.4,367.6 L485.4,366.3 L485.4,365.8 L485.4,365.6 L485.4,364.8 L485.5,364.8 L485.5,363.7 L485.5,363.4 L485.5,362.8 L485.5,361.7 L485.5,361.7 L485.5,361.2 L485.5,360.0 L485.5,359.3 L485.5,358.8 L485.5,358.9 L485.5,357.7 L485.5,356.9 L485.5,356.0 L485.5,355.9 L485.5,354.8 L485.5,355.1 L485.5,353.8 L485.5,353.0 L485.5,353.3 L485.5,352.4 L485.6,351.9 L485.6,350.7 L485.6,350.8 L485.6,350.0 L485.6,349.4 L485.6,349.1 L485.6,348.5 L485.6,347.5 L485.6,347.5 L485.6,346.5 L485.6,345.7 L485.6,345.4 L485.6,344.6 L485.6,344.5 L485.6,343.4 L485.6,342.7 L485.6,342.1 L485.6,341.8 L485.6,340.3 L485.6,339.8 L485.6,339.6 L485.6,339.3 L485.6,338.8 L485.7,337.8 L485.7,336.7 L485.7,335.8 L485.7,336.0 L485.7,335.3 L485.7,335.0 L485.7,334.7 L485.7,333.3 L485.7,333.6 L485.7,332.3 L485.7,331.8 L485.7,331.4 L485.7,329.9 L485.7,331.1 L485.7,329.4 L485.7,329.3 L485.7,328.0 L485.7,327.0 L485.7,326.7 L485.7,326.0 L485.7,325.1 L485.7,324.3 L485.7,325.0 L485.7,323.8 L485.8,323.5 L485.8,323.4 L485.8,322.1 L485.8,321.7 L485.8,321.5 L485.8,320.6 L485.8,320.0 L485.8,318.9 L485.8,318.3 L485.8,318.4 L485.8,317.4 L485.8,317.3 L485.8,316.6 L485.8,315.9 L485.8,315.4 L485.8,314.6 L485.8,314.4 L485.8,312.4 L485.8,312.4 L485.8,312.2 L485.8,312.2 L485.8,310.2 L485.8,310.1 L485.8,309.9 L485.8,309.6 L485.9,308.3 L485.9,307.1 L485.9,307.4 L485.9,307.0 L485.9,306.3 L485.9,305.7 L485.9,305.1 L485.9,304.0 L485.9,303.9 L485.9,303.4 L485.9,302.5 L485.9,301.6 L485.9,301.1 L485.9,301.0 L485.9,299.8 L485.9,300.0 L485.9,299.0 L485.9,298.2 L485.9,298.0 L485.9,297.1 L485.9,297.4 L485.9,296.5 L485.9,295.0 L485.9,294.6 L486.0,293.3 L486.0,293.8 L486.0,293.1 L486.0,292.4 L486.0,291.1 L486.0,291.7 L486.0,291.0 L486.0,289.7 L486.0,289.0 L486.0,288.5 L486.0,288.4 L486.0,287.6 L486.0,286.9 L486.0,286.2 L486.0,285.1 L486.0,284.8 L486.0,283.8 L486.0,284.3 L486.0,283.3 L486.0,282.7 L486.0,281.9 L486.0,281.1 L486.0,280.0 L486.0,279.9 L486.1,279.5 L486.1,278.9 L486.1,278.8 L486.1,278.2 L486.1,276.9 L486.1,276.3 L486.1,276.5 L486.1,274.6 L486.1,274.8 L486.1,274.6 L486.1,273.7 L486.1,272.9 L486.1,272.7 L486.1,271.6 L486.1,270.9 L486.1,270.8 L486.1,270.0 L486.1,269.7 L486.1,269.4 L486.1,268.8 L486.1,266.7 L486.1,267.2 L486.2,266.7 L486.2,266.2 L486.2,265.2 L486.2,264.6 L486.2,264.2 L486.2,263.2 L486.2,262.2 L486.2,262.6 L486.2,262.0 L486.2,260.6 L486.2,260.9 L486.2,259.5 L486.2,259.4 L486.2,258.2 L486.2,258.1 L486.2,257.2 L486.2,256.7 L486.2,256.4 L486.2,255.9 L486.2,254.7 L486.2,255.1 L486.3,253.5 L486.3,252.6 L486.3,252.5 L486.3,252.9 L486.3,251.3 L486.3,250.3 L486.3,250.0 L486.3,249.8 L486.3,249.3 L486.3,248.7 L486.3,248.3 L486.3,248.1 L486.3,246.7 L486.3,246.3 L486.3,245.5 L486.3,245.0 L486.3,244.8 L486.3,243.8 L486.3,242.7 L486.4,242.9 L486.4,242.5 L486.4,241.4 L486.4,241.5 L486.4,240.5 L486.4,238.9 L486.4,238.7 L486.4,237.8 L486.4,237.5 L486.4,236.7 L486.4,236.6 L486.4,236.1 L486.4,234.5 L486.4,235.0 L486.4,234.0 L486.4,233.9 L486.4,232.8 L486.4,231.4 L486.5,231.6 L486.5,231.2 L486.5,230.7 L486.5,229.9 L486.5,228.9 L486.5,228.3 L486.5,227.8 L486.5,227.1 L486.5,226.9 L486.5,226.4 L486.5,226.0 L486.5,225.2 L486.5,224.4 L486.5,224.1 L486.5,223.3 L486.5,222.3 L486.6,222.5 L486.6,221.5 L486.6,220.9 L486.6,220.8 L486.6,219.9 L486.6,219.4 L486.6,219.3 L486.6,218.4 L486.6,217.7 L486.6,216.8 L486.6,215.3 L486.6,214.5 L486.6,214.5 L486.6,215.3 L486.6,213.6 L486.6,212.9 L486.7,212.7 L486.7,212.4 L486.7,211.5 L486.7,210.9 L486.7,210.2 L486.7,209.3 L486.7,208.7 L486.7,207.4 L486.7,207.7 L486.7,207.1 L486.7,206.6 L486.7,206.3 L486.7,204.7 L486.7,204.2 L486.7,204.4 L486.7,202.8 L486.8,203.0 L486.8,202.3 L486.8,201.9 L486.8,200.7 L486.8,200.7 L486.8,199.4 L486.8,199.6 L486.8,198.7 L486.8,197.9 L486.8,197.5 L486.8,197.4 L486.8,195.8 L486.8,195.6 L486.8,194.5 L486.8,194.8 L486.9,194.1 L486.9,192.9 L486.9,192.5 L486.9,191.6 L486.9,191.5 L486.9,191.3 L486.9,190.0 L486.9,189.7 L486.9,188.4 L486.9,189.1 L486.9,187.4 L486.9,187.3 L486.9,186.5 L486.9,186.5 L486.9,185.4 L487.0,184.7 L487.0,183.7 L487.0,184.1 L487.0,182.3 L487.0,183.1 L487.0,182.4 L487.0,182.0 L487.0,180.3 L487.0,179.8 L487.0,179.5 L487.0,179.3 L487.0,177.8 L487.0,178.2 L487.0,176.6 L487.0,176.8 L487.0,175.9 L487.1,175.4 L487.1,174.7 L487.1,174.4 L487.1,172.8 L487.1,173.3 L487.1,172.1 L487.1,171.6 L487.1,170.8 L487.1,170.8 L487.1,170.1 L487.1,169.1 L487.1,168.3 L487.1,168.8 L487.1,167.4 L487.1,167.1 L487.2,166.2 L487.2,166.1 L487.2,165.7 L487.2,164.9 L487.2,164.6 L487.2,164.0 L487.2,161.8 L487.2,161.9 L487.2,161.0 L487.2,161.2 L487.2,160.4 L487.2,159.2 L487.2,159.8 L487.2,158.6 L487.3,158.6 L487.3,157.1 L487.3,157.1 L487.3,156.7 L487.3,155.4 L487.3,155.1 L487.3,154.3 L487.3,153.6 L487.3,153.3 L487.3,151.7 L487.3,152.2 L487.3,151.4 L487.3,150.2 L487.3,150.4 L487.3,148.7 L487.4,148.5 L487.4,148.8 L487.4,148.0 L487.4,146.9 L487.4,147.1 L487.4,145.8 L487.4,145.3 L487.4,144.7 L487.4,144.4 L487.4,143.7 L487.4,142.5 L487.4,142.2 L487.4,142.0 L487.4,141.6 L487.5,140.6 L487.5,140.3 L487.5,139.7 L487.5,138.3 L487.5,138.0 L487.5,138.4 L487.5,136.8 L487.5,136.6 L487.5,135.2 L487.5,136.4 L487.5,134.2 L487.5,134.2 L487.5,133.6 L487.5,132.1 L487.5,132.1 L487.6,132.0 L487.6,130.7 L487.6,130.7 L487.6,129.6 L487.6,129.6 L487.6,129.5 L487.6,127.5 L487.6,127.5 L487.6,126.5 L487.6,125.7 L487.6,125.5 L487.6,125.0 L487.6,124.5 L487.6,123.9 L487.7,122.2 L487.7,122.3 L487.7,121.1 L487.7,121.5 L487.7,121.1 L487.7,120.2 L487.7,119.3 L487.7,119.1 L487.7,118.7 L487.7,118.0 L487.7,116.9 L487.7,116.4 L487.7,116.4 L487.7,115.3 L487.8,114.8 L487.8,114.1 L487.8,113.8 L487.8,113.2 L487.8,112.2 L487.8,111.6 L487.8,111.0 L487.8,110.6 L487.8,110.2 L487.8,108.7 L487.8,109.4 L487.8,107.7 L487.8,107.6 L487.8,106.5 L487.9,106.1 L487.9,105.7 L487.9,105.3 L487.9,104.6 L487.9,104.3 L487.9,103.2 L487.9,103.4 L487.9,101.5 L487.9,101.6 L487.9,101.0 L487.9,100.1 L487.9,99.7 L487.9,98.8 L487.9,98.7 L488.0,97.8 L488.0,97.6 L488.0,96.9 L488.0,96.3 L488.0,95.6 L488.0,94.6 L488.0,94.6 L488.0,94.1 L488.0,93.0 L488.0,92.1 L488.0,91.7 L488.0,91.8 L488.0,90.1 L488.1,90.3 L488.1,89.4 L488.1,89.2 L488.1,87.7 L488.1,87.9 L488.1,86.7 L488.1,86.7 L488.1,86.6 L488.1,85.2 L488.1,85.5 L488.1,84.1 L488.1,83.8 L488.1,83.9 L488.1,82.7 L488.2,81.9 L488.2,80.2 L488.2,80.2 L488.2,80.1 L488.2,79.0 L488.2,78.3 L488.2,78.3 L488.2,76.9 L488.2,76.5 L488.2,76.6 L488.2,76.5 L488.2,74.8 L488.2,74.6 L488.3,74.1 L488.3,73.1 L488.3,72.4 L488.3,72.3 L488.3,71.1 L488.3,70.6 L488.3,71.1 L488.3,68.9 L488.3,69.9 L488.3,69.1 L488.3,67.7 L488.3,67.8 L488.3,66.8 L488.3,65.7 L488.4,65.3 L488.4,64.6 L488.4,65.0 L488.4,63.2 L488.4,62.6 L488.4,62.4 L488.4,61.6 L488.4,62.2 L488.4,60.5 L488.4,59.8 L488.4,59.2 L488.4,58.6 L488.4,57.5 L488.5,57.7 L488.5,56.8 L488.5,56.4 L488.5,56.4 L488.5,55.7 L488.5,55.0 L488.5,53.7 L488.5,53.5 L488.5,52.7 L488.5,52.2 L488.5,51.6 L488.5,50.9 L488.5,50.9 L488.6,49.6 L488.6,49.9 L488.6,48.9 L488.6,48.0 L488.6,47.7 L488.6,46.8 L488.6,46.2 L488.6,46.1 L488.6,45.0 L488.6,46.2 L488.6,43.4 L488.6,42.8 L488.6,43.2 L488.7,41.9 L488.7,41.2 L488.7,40.5 L488.7,40.2 L488.7,39.4 L488.7,39.4 L488.7,38.2 L488.7,37.9 L488.7,37.5 L488.7,36.8 L488.7,35.9 L488.7,35.0 L488.7,34.3 L488.8,33.6 L488.8,34.0 L488.8,32.8 L488.8,32.3 L488.8,31.9 L488.8,31.4 L488.8,31.1 L488.8,30.3 L488.8,29.4 L488.8,28.4 L488.8,28.5 L488.8,27.6 L488.8,27.1 L488.9,26.1 L488.9,26.0 L488.9,25.6 L488.9,24.6 L488.9,24.4 L488.9,23.5 L488.9,22.8 L488.9,22.8 L488.9,21.6 L488.9,21.2 L488.9,19.9 L488.9,20.3 L489.0,19.1 L489.0,18.6 L489.0,17.9 L489.0,17.6 L489.0,16.7 L489.0,15.9 L489.0,15.8 L489.0,15.2 L489.0,14.3 L489.0,14.2 L489.0,13.8 L489.0,12.4 L489.0,12.3 L489.1,11.8 L489.1,10.4 L489.1,10.0 L489.1,9.1 L489.1,10.2 L489.1,9.1 L489.1,8.6 L489.1,9.4 L489.1,10.2 L489.1,10.2 L489.1,11.2 L489.1,11.6 L489.2,13.2 L489.2,11.8 L489.2,12.6 L489.2,13.1 L489.2,14.3 L489.2,14.2 L489.2,15.5 L489.2,15.0 L489.2,16.8 L489.2,17.2 L489.2,18.2 L489.2,18.5 L489.3,18.8 L489.3,19.5 L489.3,19.1 L489.3,20.5 L489.3,21.2 L489.3,22.5 L489.3,22.4 L489.3,22.3 L489.3,24.5 L489.3,23.8 L489.3,24.8 L489.3,25.0 L489.4,24.5 L489.4,26.9 L489.4,27.0 L489.4,28.1 L489.4,28.1 L489.4,29.2 L489.4,30.2 L489.4,30.4 L489.4,30.7 L489.4,31.2 L489.4,32.0 L489.5,32.0 L489.5,33.2 L489.5,34.0 L489.5,33.8 L489.5,34.4 L489.5,36.3 L489.5,36.2 L489.5,37.5 L489.5,37.6 L489.5,38.3 L489.5,38.6 L489.6,39.9 L489.6,40.3 L489.6,40.3 L489.6,40.2 L489.6,41.0 L489.6,42.1 L489.6,42.4 L489.6,43.6 L489.6,44.1 L489.6,44.8 L489.6,45.4 L489.7,45.8 L489.7,46.5 L489.7,47.0 L489.7,47.1 L489.7,48.1 L489.7,48.7 L489.7,49.7 L489.7,49.8 L489.7,50.2 L489.7,52.0 L489.7,52.1 L489.8,52.8 L489.8,53.6 L489.8,53.4 L489.8,54.6 L489.8,54.8 L489.8,54.9 L489.8,56.1 L489.8,56.7 L489.8,57.4 L489.8,57.7 L489.8,58.3 L489.9,58.5 L489.9,59.9 L489.9,59.3 L489.9,60.8 L489.9,61.1 L489.9,61.8 L489.9,62.7 L489.9,63.0 L489.9,63.0 L489.9,63.5 L490.0,64.2 L490.0,65.2 L490.0,66.0 L490.0,66.6 L490.0,67.4 L490.0,68.0 L490.0,68.4 L490.0,68.6 L490.0,69.6 L490.0,70.1 L490.0,71.7 L490.1,72.0 L490.1,71.8 L490.1,72.7 L490.1,73.9 L490.1,74.0 L490.1,75.0 L490.1,75.3 L490.1,75.9 L490.1,76.6 L490.1,76.7 L490.2,77.3 L490.2,78.0 L490.2,79.2 L490.2,79.5 L490.2,79.4 L490.2,81.0 L490.2,81.4 L490.2,82.2 L490.2,82.5 L490.2,83.0 L490.3,82.7 L490.3,84.3 L490.3,84.0 L490.3,85.3 L490.3,86.7 L490.3,86.7 L490.3,87.3 L490.3,87.6 L490.3,88.5 L490.3,88.4 L490.4,89.5 L490.4,90.3 L490.4,90.7 L490.4,90.9 L490.4,91.0 L490.4,92.3 L490.4,92.8 L490.4,93.5 L490.4,94.6 L490.4,94.2 L490.5,95.9 L490.5,95.6 L490.5,97.8 L490.5,97.9 L490.5,98.2 L490.5,98.2 L490.5,99.2 L490.5,99.8 L490.5,100.1 L490.5,100.7 L490.6,102.0 L490.6,102.2 L490.6,103.6 L490.6,103.9 L490.6,103.9 L490.6,104.8 L490.6,105.2 L490.6,105.3 L490.6,106.6 L490.6,106.6 L490.7,108.2 L490.7,108.6 L490.7,107.8 L490.7,109.4 L490.7,109.5 L490.7,111.3 L490.7,111.1 L490.7,111.9 L490.7,112.6 L490.8,112.6 L490.8,113.6 L490.8,114.7 L490.8,114.5 L490.8,115.6 L490.8,115.9 L490.8,117.5 L490.8,118.0 L490.8,117.8 L490.8,118.3 L490.9,119.2 L490.9,119.5 L490.9,120.1 L490.9,120.5 L490.9,122.1 L490.9,122.9 L490.9,122.8 L490.9,122.5 L490.9,123.2 L491.0,124.6 L491.0,124.6 L491.0,125.3 L491.0,126.2 L491.0,126.6 L491.0,127.9 L491.0,127.4 L491.0,128.6 L491.0,128.7 L491.0,129.8 L491.1,129.6 L491.1,130.8 L491.1,132.0 L491.1,131.9 L491.1,132.9 L491.1,133.1 L491.1,134.0 L491.1,134.4 L491.1,135.4 L491.2,135.3 L491.2,136.3 L491.2,137.3 L491.2,137.3 L491.2,138.5 L491.2,139.1 L491.2,139.5 L491.2,139.1 L491.2,141.3 L491.3,140.6 L491.3,141.8 L491.3,142.5 L491.3,143.7 L491.3,143.6 L491.3,143.8 L491.3,145.0 L491.3,146.1 L491.3,145.6 L491.3,146.8 L491.4,147.2 L491.4,147.9 L491.4,148.3 L491.4,149.1 L491.4,149.8 L491.4,151.2 L491.4,150.0 L491.4,152.1 L491.4,152.0 L491.5,152.2 L491.5,152.6 L491.5,154.4 L491.5,153.7 L491.5,155.8 L491.5,155.0 L491.5,156.4 L491.5,156.4 L491.5,156.8 L491.6,157.7 L491.6,159.4 L491.6,159.3 L491.6,159.9 L491.6,160.8 L491.6,161.5 L491.6,161.2 L491.6,162.4 L491.6,162.8 L491.7,163.2 L491.7,163.1 L491.7,165.0 L491.7,165.5 L491.7,165.6 L491.7,167.9 L491.7,166.5 L491.7,167.5 L491.7,168.3 L491.8,168.5 L491.8,169.4 L491.8,170.6 L491.8,170.1 L491.8,170.3 L491.8,171.5 L491.8,172.0 L491.8,172.8 L491.9,173.3 L491.9,174.1 L491.9,175.7 L491.9,175.4 L491.9,176.9 L491.9,176.5 L491.9,176.9 L491.9,176.9 L491.9,178.4 L492.0,179.2 L492.0,180.7 L492.0,179.4 L492.0,180.4 L492.0,181.2 L492.0,181.8 L492.0,182.5 L492.0,182.8 L492.0,183.7 L492.1,183.9 L492.1,184.5 L492.1,185.6 L492.1,186.6 L492.1,186.4 L492.1,186.5 L492.1,187.7 L492.1,188.5 L492.1,189.1 L492.2,190.2 L492.2,189.9 L492.2,190.8 L492.2,191.2 L492.2,192.8 L492.2,192.9 L492.2,193.2 L492.2,193.6 L492.3,194.9 L492.3,194.5 L492.3,196.2 L492.3,196.8 L492.3,197.2 L492.3,197.6 L492.3,198.1 L492.3,199.1 L492.3,199.2 L492.4,200.4 L492.4,199.9 L492.4,201.7 L492.4,201.7 L492.4,202.9 L492.4,203.1 L492.4,203.3 L492.4,204.1 L492.5,204.5 L492.5,205.7 L492.5,205.3 L492.5,205.9 L492.5,207.5 L492.5,207.9 L492.5,207.9 L492.5,209.2 L492.5,209.0 L492.6,210.2 L492.6,210.2 L492.6,211.6 L492.6,211.9 L492.6,212.6 L492.6,212.2 L492.6,213.3 L492.6,213.7 L492.7,214.7 L492.7,215.5 L492.7,215.4 L492.7,216.5 L492.7,217.3 L492.7,218.1 L492.7,218.5 L492.7,219.2 L492.7,220.2 L492.8,219.6 L492.8,221.4 L492.8,220.9 L492.8,222.1 L492.8,222.4 L492.8,223.4 L492.8,223.8 L492.8,225.0 L492.9,224.4 L492.9,226.2 L492.9,226.5 L492.9,227.4 L492.9,227.3 L492.9,228.7 L492.9,228.8 L492.9,229.6 L493.0,230.0 L493.0,230.8 L493.0,231.7 L493.0,231.6 L493.0,231.5 L493.0,233.0 L493.0,233.8 L493.0,233.8 L493.0,234.5 L493.1,234.7 L493.1,236.1 L493.1,236.1 L493.1,237.5 L493.1,238.2 L493.1,239.1 L493.1,239.5 L493.1,240.0 L493.2,240.2 L493.2,241.6 L493.2,240.5 L493.2,241.4 L493.2,243.3 L493.2,242.8 L493.2,243.2 L493.2,244.0 L493.2,245.3 L493.3,246.0 L493.3,246.4 L493.3,246.5 L493.3,247.2 L493.3,248.2 L493.3,248.4 L493.3,249.4 L493.3,249.2 L493.4,250.8 L493.4,251.0 L493.4,251.5 L493.4,251.9 L493.4,251.8 L493.4,253.9 L493.4,253.7 L493.4,254.5 L493.4,255.1 L493.5,256.1 L493.5,256.3 L493.5,257.7 L493.5,257.8 L493.5,258.0 L493.5,258.5 L493.5,260.4 L493.5,259.6 L493.6,260.3 L493.6,260.7 L493.6,261.8 L493.6,262.3 L493.6,263.5 L493.6,263.1 L493.6,263.5 L493.6,265.5 L493.6,264.2 L493.7,265.9 L493.7,265.8 L493.7,267.4 L493.7,267.4 L493.7,268.6 L493.7,268.7 L493.7,269.6 L493.7,269.6 L493.8,270.7 L493.8,271.4 L493.8,272.0 L493.8,273.0 L493.8,273.5 L493.8,274.9 L493.8,273.8 L493.8,275.1 L493.8,275.5 L493.9,276.4 L493.9,277.3 L493.9,278.2 L493.9,278.6 L493.9,278.1 L493.9,278.7 L493.9,279.3 L493.9,280.3 L493.9,280.3 L494.0,281.4 L494.0,281.4 L494.0,282.6 L494.0,283.3 L494.0,284.4 L494.0,284.5 L494.0,285.0 L494.0,286.0 L494.1,286.0 L494.1,287.5 L494.1,287.5 L494.1,288.3 L494.1,288.6 L494.1,289.3 L494.1,289.8 L494.1,290.3 L494.1,291.2 L494.2,292.1 L494.2,291.7 L494.2,292.9 L494.2,294.0 L494.2,294.0 L494.2,295.2 L494.2,295.6 L494.2,295.5 L494.3,296.3 L494.3,297.7 L494.3,298.2 L494.3,298.5 L494.3,299.0 L494.3,298.5 L494.3,300.1 L494.3,300.0 L494.4,301.3 L494.4,301.9 L494.4,302.5 L494.4,303.3 L494.4,303.8 L494.4,303.8 L494.4,304.7 L494.4,305.9 L494.4,307.0 L494.5,306.3 L494.5,307.5 L494.5,308.4 L494.5,308.8 L494.5,309.1 L494.5,310.3 L494.5,311.1 L494.5,311.0 L494.6,311.2 L494.6,311.6 L494.6,313.1 L494.6,313.9 L494.6,313.9 L494.6,314.6 L494.6,315.1 L494.6,316.6 L494.7,316.0 L494.7,317.3 L494.7,317.3 L494.7,318.5 L494.7,319.0 L494.7,319.9 L494.7,319.9 L494.7,320.3 L494.8,320.9 L494.8,321.3 L494.8,322.8 L494.8,322.9 L494.8,322.8 L494.8,324.3 L494.8,324.5 L494.8,324.6 L494.9,325.8 L494.9,326.5 L494.9,326.9 L494.9,327.5 L494.9,327.8 L494.9,328.4 L494.9,330.4 L494.9,329.6 L495.0,331.0 L495.0,331.5 L495.0,331.9 L495.0,331.7 L495.0,333.6 L495.0,333.4 L495.0,335.3 L495.1,334.7 L495.1,335.0 L495.1,336.6 L495.1,336.6 L495.1,337.4 L495.1,338.3 L495.1,338.1 L495.1,338.6 L495.2,339.7 L495.2,340.8 L495.2,340.9 L495.2,341.4 L495.2,342.7 L495.2,343.2 L495.2,343.3 L495.3,344.8 L495.3,344.4 L495.3,345.3 L495.3,345.4 L495.3,346.6 L495.3,347.4 L495.3,347.5 L495.4,347.5 L495.4,348.9 L495.4,349.3 L495.4,350.1 L495.4,350.0 L495.4,351.3 L495.4,351.4 L495.4,352.7 L495.5,353.0 L495.5,353.5 L495.5,354.2 L495.5,355.0 L495.5,356.0 L495.5,355.9 L495.5,356.6 L495.6,356.8 L495.6,357.8 L495.6,357.8 L495.6,358.8 L495.6,360.2 L495.6,360.2 L495.6,360.6 L495.7,361.2 L495.7,361.6 L495.7,362.8 L495.7,363.0 L495.7,363.4 L495.7,365.1 L495.8,365.4 L495.8,365.7 L495.8,365.9 L495.8,367.3 L495.8,368.2 L495.8,367.9 L495.8,368.7 L495.9,369.4 L495.9,370.4 L495.9,370.6 L495.9,371.1 L495.9,371.4 L495.9,371.9 L495.9,372.9 L496.0,373.4 L496.0,373.8 L496.0,374.1 L496.0,375.1 L496.0,375.5 L496.0,376.4 L496.1,377.4 L496.1,377.9 L496.1,378.7 L496.1,378.0 L496.1,379.9 L496.1,379.4 L496.1,380.7 L496.2,381.1 L496.2,382.0 L496.2,381.9 L496.2,383.2 L496.2,382.8 L496.2,384.6 L496.3,384.3 L496.3,386.3 L496.3,385.7 L496.3,386.4 L496.3,387.0 L496.3,387.9 L496.4,388.2 L496.4,388.8 L496.4,389.3 L496.4,390.1 L496.4,391.2 L496.4,391.1 L496.5,392.0 L496.5,392.3 L496.5,393.0 L496.5,393.9 L496.5,394.4 L496.5,394.4 L496.6,395.7 L496.6,396.1 L496.6,396.8 L496.6,398.3 L496.6,397.9 L496.6,397.8 L496.7,399.6 L496.7,399.3 L496.7,400.0 L496.7,400.6 L496.7,401.8 L496.8,401.4 L496.8,402.4 L496.8,402.9 L496.8,404.2 L496.8,404.6 L496.8,405.0 L496.9,405.7 L496.9,405.9 L496.9,406.4 L496.9,407.8 L496.9,407.8 L496.9,408.7 L497.0,409.0 L497.0,409.3 L497.0,409.9 L497.0,411.2 L497.0,412.5 L497.1,412.2 L497.1,413.5 L497.1,413.4 L497.1,414.0 L497.1,414.9 L497.2,414.8 L497.2,415.8 L497.2,416.3 L497.2,417.3 L497.2,416.8 L497.2,418.7 L497.3,419.3 L497.3,419.6 L497.3,420.2 L497.3,420.6 L497.3,421.2 L497.4,422.0 L497.4,421.9 L497.4,422.7 L497.4,423.5 L497.4,425.2 L497.5,424.7 L497.5,426.3 L497.5,425.8 L497.5,425.2 L497.5,427.2 L497.6,427.9 L497.6,429.3 L497.6,428.7 L497.6,429.9 L497.6,429.9 L497.7,431.0 L497.7,431.7 L497.7,431.7 L497.7,433.1 L497.7,433.5 L497.8,433.5 L497.8,434.9 L497.8,434.8 L497.8,435.9 L497.9,436.1 L497.9,436.5 L497.9,438.0 L497.9,438.9 L497.9,439.1 L498.0,439.6 L498.0,439.7 L498.0,441.4 L498.0,441.2 L498.0,441.9 L498.1,442.0 L498.1,442.4 L498.1,443.7 L498.1,444.4 L498.2,444.3 L498.2,445.1 L498.2,445.9 L498.3,446.5 L498.3,446.6 L498.3,447.0 L498.3,448.0 L498.4,449.0 L498.4,449.7 L498.4,449.9 L498.5,451.4 L498.5,450.7 L498.5,451.7 L498.6,452.5 L498.6,453.1 L498.6,453.8 L498.7,453.9 L498.7,454.5 L498.7,454.8 L498.8,456.4 L498.8,456.3 L498.8,457.3 L498.9,458.3 L498.9,458.5 L499.0,458.4 L499.0,459.6 L499.0,460.4 L499.1,461.6 L499.1,461.6 L499.1,461.7 L499.2,464.0 L499.2,463.7 L499.2,464.0 L499.3,464.1 L499.3,464.5 L499.3,465.6 L499.4,466.3 L499.4,466.6 L499.4,467.6 L499.5,468.0 L499.5,467.9 L499.5,470.0 L499.5,469.1 L499.6,470.9 L499.6,470.8 L499.6,470.7 L499.7,471.8 L499.7,473.3 L499.7,472.8 L499.7,473.8 L499.8,475.2 L499.8,474.8 L499.8,476.1 L499.8,475.8 L499.9,477.0 L499.9,477.5 L499.9,478.2 L499.9,478.5 L500.0,479.9 L500.0,479.3 L500.0,481.2 L500.0,481.2 L500.0,481.4 L500.1,482.6 L500.1,483.3 L500.1,483.6 L500.1,484.0 L500.1,485.6 L500.2,485.5 L500.2,485.6 L500.2,487.4 L500.2,487.6 L500.2,487.8 L500.2,488.0 L500.3,489.4 L500.3,489.4 L500.3,490.1 L500.3,490.6 L500.3,490.8 L500.3,492.9 L500.4,492.8 L500.4,493.6 L500.4,493.6 L500.4,495.0 L500.4,493.8 L500.4,495.4 L500.5,495.1 L500.5,496.9 L500.5,497.7 L500.5,498.2 L500.5,498.0 L500.5,499.2 L500.6,499.7 L500.6,500.5 L500.6,501.5 L500.6,501.4 L500.6,502.6 L500.7,503.1 L500.7,503.8 L500.7,503.7 L500.7,504.3 L500.7,505.0 L500.7,505.4 L500.8,506.1 L500.8,506.7 L500.8,507.8 L500.8,508.0 L500.8,509.1 L500.9,509.2 L500.9,510.8 L500.9,510.6 L500.9,511.2 L501.0,511.3 L501.0,512.8 L501.0,513.5 L501.0,513.5 L501.1,514.5 L501.1,515.5 L501.1,515.1 L501.1,516.4 L501.1,516.5 L501.2,517.2 L501.2,517.4 L501.2,518.4 L501.3,519.0 L501.3,519.9 L501.3,520.0 L501.3,520.7 L501.4,522.3 L501.4,522.1 L501.4,522.9 L501.4,523.4 L501.5,523.3 L501.5,524.4 L501.5,525.1 L501.6,525.0 L501.6,527.1 L501.6,526.6 L501.6,527.1 L501.7,528.1 L501.7,528.9 L501.7,529.5 L501.8,529.9 L501.8,531.1 L501.8,531.3 L501.9,531.7 L501.9,532.5 L501.9,532.7 L502.0,533.3 L502.0,534.2 L502.0,534.4 L502.1,534.9 L502.1,535.9 L502.2,536.4 L502.2,537.0 L502.2,537.3 L502.3,538.9 L502.3,538.7 L502.4,539.7 L502.4,540.2 L502.4,540.2 L502.5,541.3 L502.5,542.0 L502.6,542.8 L502.6,542.3 L502.7,543.1 L502.7,544.6 L502.8,544.4 L502.8,544.9 L502.9,546.2 L502.9,546.5 L503.0,547.6 L503.0,546.9 L503.1,548.7 L503.1,549.3 L503.2,549.4 L503.2,549.9 L503.3,551.2 L503.4,550.9 L503.4,552.9 L503.5,552.9 L503.6,552.6 L503.7,553.7 L503.7,554.4 L503.8,555.3 L503.9,555.3 L504.0,556.3 L504.1,556.6 L504.2,557.2 L504.2,557.7 L504.3,558.8 L504.4,559.1 L504.5,559.9 L504.6,560.5 L504.7,560.9 L504.8,562.2 L504.9,562.5 L505.0,562.9 L505.1,562.8 L505.2,564.3 L505.3,564.5 L505.4,565.1 L505.5,565.3 L505.7,566.1 L505.8,567.5 L505.9,567.7 L506.0,568.0 L506.1,568.7 L506.2,569.0 L506.3,570.0 L506.5,570.2 L506.6,570.7 L506.7,572.1 L506.9,572.1 L507.0,573.1 L507.1,573.0 L507.3,573.8 L507.4,574.8 L507.6,575.2 L507.7,575.7 L507.9,576.3 L508.1,576.0 L508.3,577.6 L508.4,578.0 L508.6,577.8 L508.8,579.3 L509.1,580.0 L509.3,580.9 L509.5,580.6 L509.8,581.5 L510.0,581.0 L510.3,583.2 L510.6,582.7 L510.9,583.4 L511.3,583.7 L511.6,583.9 L512.0,584.1 L512.3,585.4 L512.7,585.1 L513.1,586.5 L513.5,586.4 L513.9,587.4 L514.3,587.5 L514.7,587.8 L515.1,588.2 L515.5,589.2 L515.9,589.7 L516.3,590.3 L516.8,589.8 L517.2,590.6 L517.6,591.2 L518.1,592.2 L518.5,592.0 L519.0,591.6 L519.5,592.6 L519.9,592.3 L520.4,594.1 L520.9,593.9 L521.4,594.6 L521.9,593.5 L522.4,594.9 L522.9,594.9 L523.4,595.6 L523.9,596.4 L524.4,595.8 L525.0,597.1 L525.5,596.8 L526.0,597.4 L526.5,597.2 L527.1,597.7 L527.6,598.4 L528.1,597.1 L528.7,598.7 L529.2,598.9 L529.8,599.2 L530.3,599.3 L530.9,599.0 L531.4,599.4 L532.0,599.2 L532.6,600.1 L533.2,600.4 L533.7,599.9 L534.3,600.0 L534.9,600.5 L535.5,600.7 L536.0,601.0 L536.6,601.6 L537.2,600.9 L537.8,601.3 L538.4,601.5 L538.9,601.8 L539.5,601.1 L540.1,602.0 L540.7,601.7 L541.3,601.2 L541.9,602.6 L542.5,601.8 L543.0,601.8 L543.6,602.0 L544.2,602.4 L544.8,602.4 L545.4,603.1 L546.0,602.8 L546.6,602.2 L547.2,602.6 L547.8,601.9 L548.4,602.3 L549.0,602.8 L549.6,603.1 L550.2,603.2 L550.8,602.7 L551.4,603.0 L552.0,603.1 L552.6,603.4 L553.2,603.5 L553.8,603.2 L554.4,603.8 L555.0,603.0 L555.6,603.5 L556.2,603.4 L556.8,603.4 L557.4,604.8 L558.0,603.6 L558.6,604.3 L559.2,603.7 L559.8,603.6 L560.4,604.4 L561.0,603.4 L561.6,603.8 L562.2,604.0 L562.8,603.5 L563.4,604.8 L564.0,604.0 L564.6,604.4 L565.2,603.8 L565.8,604.2 L566.4,604.2 L567.0,604.8 L567.6,604.1 L568.2,604.0 L568.8,604.8 L569.4,604.3 L570.0,603.9 L570.6,604.5 L571.2,604.5 L571.8,604.9 L572.4,604.9 L573.0,604.9 L573.6,605.2 L574.2,604.2 L574.8,604.9 L575.4,604.6 L576.0,604.3 L576.6,604.7 L577.2,604.1 L577.8,604.6 L578.4,604.2 L579.0,604.9 L579.6,604.9 L580.2,604.0 L580.8,604.9 L581.4,604.6 L582.0,605.1 L582.6,605.2 L583.2,604.5 L583.8,604.7 L584.4,604.5 L585.0,605.3 L585.6,605.2 L586.2,605.5 L586.8,604.7 L587.4,605.1 L588.0,604.9 L588.6,605.1 L589.2,604.6 L589.8,604.5 L590.4,605.4 L591.0,604.3 L591.6,605.0 L592.2,605.7 L592.8,604.3 L593.4,604.6 L594.0,604.9 L594.6,603.9 L595.2,604.8 L595.8,604.1 L596.4,603.9 L597.0,604.6 L597.6,604.2 L598.2,604.9 L598.8,604.9 L599.4,604.9 L600.0,604.2 L600.6,604.2 L601.2,604.6 L601.8,603.7 L602.4,604.7 L603.0,604.7 L603.6,605.0 L604.2,604.4 L604.8,604.0 L605.4,604.9 L606.0,603.9 L606.6,604.7 L607.2,604.4 L607.8,603.6 L608.4,604.4 L609.0,604.5 L609.6,604.7 L610.2,604.6 L610.8,603.7 L611.4,604.6 L612.0,604.2 L612.6,604.2 L613.2,604.8 L613.8,603.9 L614.4,604.9 L615.0,604.6 L615.6,603.7 L616.2,604.2 L616.8,604.1 L617.4,604.2 L618.0,604.7 L618.6,604.9 L619.2,605.2 L619.8,604.5 L620.4,604.9 L621.0,604.4 L621.6,604.5 L622.2,604.5 L622.8,605.0 L623.4,604.1 L624.0,604.5 L624.6,604.2 L625.2,604.8 L625.8,604.8 L626.4,605.0 L627.0,603.8 L627.6,604.4 L628.2,604.5 L628.8,604.9 L629.4,604.3 L630.0,605.0 L630.6,605.0 L631.2,604.8 L631.8,603.7 L632.4,604.2 L633.0,605.2 L633.6,604.7 L634.2,604.3 L634.8,604.2 L635.4,604.6 L636.0,604.9 L636.6,604.0 L637.2,604.7 L637.8,605.1 L638.4,605.2 L639.0,604.6 L639.6,604.2 L640.2,604.9 L640.8,604.2 L641.4,605.2 L642.0,604.9 L642.6,603.9 L643.2,604.6 L643.8,604.4 L644.4,603.8 L645.0,605.3 L645.6,604.5 L646.2,604.4 L646.8,604.7 L647.4,604.4 L648.0,604.2 L648.6,604.7 L649.2,604.2 L649.8,604.9 L650.4,604.0 L651.0,604.1 L651.6,605.1 L652.2,604.4 L652.8,604.2 L653.4,605.0 L654.0,604.3 L654.6,603.8 L655.2,604.1 L655.8,604.4 L656.4,604.5 L657.0,603.7 L657.6,604.2 L658.2,603.9 L658.8,604.2 L659.4,604.0 L660.0,604.4 L660.6,604.0 L661.2,604.6 L661.8,604.0 L662.4,604.5 L663.0,603.7 L663.6,603.5 L664.2,604.3 L664.8,603.8 L665.4,604.0 L666.0,603.8 L666.6,604.7 L667.2,604.3 L667.8,604.4 L668.4,603.8 L669.0,604.1 L669.6,604.0 L670.2,604.2 L670.8,604.5 L671.4,604.2 L672.0,603.9 L672.6,605.1 L673.2,604.8 L673.8,604.0 L674.4,604.0 L675.0,604.5 L675.6,604.3 L676.2,604.6 L676.8,604.3 L677.4,604.0 L678.0,604.3 L678.6,604.3 L679.2,604.5 L679.8,604.4 L680.4,603.4 L681.0,604.3 L681.6,605.2 L682.2,604.3 L682.8,605.3 L683.4,604.5 L684.0,604.0 L684.6,604.4 L685.2,604.9 L685.8,604.7 L686.4,605.0 L687.0,604.7 L687.6,605.0 L688.2,604.5 L688.8,604.1 L689.4,605.1 L690.0,605.1 L690.6,604.7 L691.2,604.0 L691.8,604.7 L692.4,605.1 L693.0,604.6 L693.6,604.5 L694.2,604.2 L694.8,605.1 L695.4,605.2 L696.0,604.5 L696.6,605.1 L697.2,604.8 L697.8,605.6 L698.4,604.7 L699.0,604.0 L699.6,604.3 L700.2,605.1 L700.8,604.3 L701.4,603.8 L702.0,605.3 L702.6,604.3 L703.2,604.1 L703.8,604.9 L704.4,604.0 L705.0,605.0 L705.6,605.6 L706.2,604.6 L706.8,604.3 L707.4,604.1 L708.0,604.1 L708.6,605.5 L709.2,604.5 L709.8,604.5 L710.4,604.2 L711.0,603.9 L711.6,604.6 L712.2,604.2 L712.8,604.5 L713.4,604.0 L714.0,604.1 L714.6,604.1 L715.2,603.6 L715.8,604.2 L716.4,604.6 L717.0,603.8 L717.6,604.1 L718.2,603.9 L718.8,604.8 L719.4,604.3 L720.0,603.2 L720.6,604.4 L721.2,604.9 L721.8,604.7 L722.4,604.9 L723.0,604.5 L723.6,604.6 L724.2,604.2 L724.8,604.2 L725.4,604.4 L726.0,605.0 L726.6,605.0 L727.1,604.2 L727.6,604.0 L728.1,605.0 L728.5,604.5 L728.8,604.0" stroke="#007f00" stroke-width="3.0"/>
<path d="M476.2,574.5 L476.4,574.0 L476.6,573.8 L476.9,574.4 L477.1,572.3 L477.3,572.2 L477.5,571.3 L477.7,571.0 L477.9,570.5 L478.1,569.9 L478.3,568.8 L478.5,568.2 L478.6,568.4 L478.8,567.5 L479.0,566.9 L479.1,566.5 L479.3,565.3 L479.4,565.6 L479.5,564.1 L479.6,563.5 L479.8,562.9 L479.9,562.7 L480.0,563.2 L480.1,561.6 L480.2,561.1 L480.3,561.0 L480.4,559.6 L480.5,558.6 L480.6,558.3 L480.7,557.8 L480.8,556.7 L480.9,556.7 L480.9,556.2 L481.0,556.4 L481.1,555.3 L481.2,554.5 L481.2,553.6 L481.3,552.9 L481.4,551.9 L481.4,551.9 L481.5,550.5 L481.6,550.7 L481.6,550.9 L481.7,549.4 L481.7,549.2 L481.7,548.0 L481.8,547.0 L481.8,547.3 L481.9,546.5 L481.9,546.2 L481.9,545.5 L482.0,545.1 L482.0,544.0 L482.0,543.8 L482.0,543.4 L482.1,542.2 L482.1,541.7 L482.1,541.7 L482.2,540.8 L482.2,539.9 L482.2,538.8 L482.2,538.7 L482.3,538.9 L482.3,537.5 L482.3,537.0 L482.3,536.1 L482.3,535.8 L482.4,535.2 L482.4,534.8 L482.4,533.8 L482.4,533.0 L482.4,533.7 L482.5,532.3 L482.5,531.3 L482.5,531.0 L482.5,530.6 L482.5,530.3 L482.5,529.4 L482.6,528.5 L482.6,528.3 L482.6,526.9 L482.6,526.5 L482.6,526.8 L482.6,525.7 L482.7,525.0 L482.7,524.2 L482.7,523.4 L482.7,523.3 L482.7,522.7 L482.7,522.8 L482.8,521.1 L482.8,520.8 L482.8,520.1 L482.8,519.3 L482.8,519.8 L482.8,519.0 L482.8,517.9 L482.9,516.7 L482.9,516.8 L482.9,516.2 L482.9,515.2 L482.9,514.2 L482.9,515.0 L482.9,513.1 L483.0,513.5 L483.0,512.2 L483.0,511.7 L483.0,511.7 L483.0,510.2 L483.0,509.9 L483.0,509.4 L483.1,509.3 L483.1,508.7 L483.1,507.7 L483.1,506.5 L483.1,506.9 L483.1,505.7 L483.1,505.4 L483.1,503.9 L483.1,504.0 L483.2,503.7 L483.2,502.7 L483.2,502.5 L483.2,502.2 L483.2,501.7 L483.2,500.2 L483.2,499.2 L483.2,498.2 L483.2,498.5 L483.3,497.4 L483.3,497.6 L483.3,496.0 L483.3,496.7 L483.3,495.7 L483.3,494.4 L483.3,494.6 L483.3,494.1 L483.3,493.5 L483.4,492.6 L483.4,492.3 L483.4,491.7 L483.4,490.7 L483.4,490.3 L483.4,489.1 L483.4,489.4 L483.4,487.9 L483.4,487.8 L483.5,486.8 L483.5,487.0 L483.5,486.1 L483.5,485.0 L483.5,484.9 L483.5,484.1 L483.5,483.9 L483.5,483.0 L483.5,482.4 L483.6,481.7 L483.6,480.5 L483.6,480.8 L483.6,480.3 L483.6,479.0 L483.6,479.0 L483.6,478.7 L483.6,478.0 L483.7,477.6 L483.7,476.8 L483.7,475.7 L483.7,476.1 L483.7,474.7 L483.7,473.8 L483.7,474.1 L483.8,472.6 L483.8,472.6 L483.8,471.3 L483.8,471.6 L483.8,471.0 L483.9,469.7 L483.9,469.5 L483.9,469.0 L483.9,468.1 L483.9,467.7 L483.9,466.8 L484.0,466.0 L484.0,465.3 L484.0,465.2 L484.0,464.7 L484.0,464.2 L484.1,463.5 L484.1,463.0 L484.1,462.0 L484.1,462.2 L484.1,460.6 L484.2,460.6 L484.2,459.7 L484.2,459.0 L484.2,459.4 L484.2,458.1 L484.3,456.9 L484.3,456.9 L484.3,455.9 L484.3,456.3 L484.3,454.6 L484.3,454.4 L484.4,453.5 L484.4,452.9 L484.4,452.8 L484.4,452.4 L484.4,451.8 L484.4,450.7 L484.4,449.9 L484.5,449.8 L484.5,448.8 L484.5,449.0 L484.5,447.2 L484.5,447.3 L484.5,446.0 L484.5,445.5 L484.5,444.7 L484.5,444.2 L484.6,444.3 L484.6,443.2 L484.6,442.5 L484.6,441.8 L484.6,441.3 L484.6,440.9 L484.6,440.9 L484.6,439.9 L484.6,439.3 L484.6,438.7 L484.6,438.4 L484.7,437.1 L484.7,437.0 L484.7,435.9 L484.7,435.3 L484.7,435.4 L484.7,434.5 L484.7,433.8 L484.7,432.9 L484.7,432.9 L484.7,433.0 L484.7,431.7 L484.7,431.1 L484.8,430.3 L484.8,430.2 L484.8,429.0 L484.8,429.7 L484.8,428.0 L484.8,427.3 L484.8,427.2 L484.8,425.7 L484.8,425.2 L484.8,424.6 L484.8,424.2 L484.8,424.4 L484.9,422.7 L484.9,423.5 L484.9,422.3 L484.9,422.0 L484.9,420.8 L484.9,419.5 L484.9,419.0 L484.9,419.5 L484.9,418.2 L484.9,417.9 L484.9,417.3 L484.9,417.1 L484.9,416.5 L484.9,415.5 L485.0,414.8 L485.0,414.5 L485.0,413.1 L485.0,412.7 L485.0,411.8 L485.0,411.4 L485.0,410.5 L485.0,410.9 L485.0,409.8 L485.0,410.1 L485.0,408.6 L485.0,408.3 L485.0,407.3 L485.0,407.2 L485.1,406.6 L485.1,405.6 L485.1,405.3 L485.1,404.2 L485.1,403.7 L485.1,402.9 L485.1,403.1 L485.1,401.8 L485.1,401.1 L485.1,401.3 L485.1,400.3 L485.1,399.2 L485.1,398.7 L485.1,398.3 L485.1,397.5 L485.2,397.3 L485.2,396.2 L485.2,395.6 L485.2,395.8 L485.2,395.6 L485.2,394.9 L485.2,393.5 L485.2,393.3 L485.2,392.4 L485.2,392.6 L485.2,391.4 L485.2,390.9 L485.2,390.9 L485.2,390.0 L485.2,389.0 L485.2,387.9 L485.2,387.6 L485.3,386.5 L485.3,387.2 L485.3,385.9 L485.3,385.6 L485.3,384.8 L485.3,383.8 L485.3,383.6 L485.3,383.1 L485.3,382.3 L485.3,381.7 L485.3,381.3 L485.3,380.1 L485.3,379.9 L485.3,379.1 L485.3,378.4 L485.3,378.2 L485.3,376.6 L485.3,376.4 L485.4,376.2 L485.4,376.3 L485.4,375.4 L485.4,374.2 L485.4,374.5 L485.4,373.4 L485.4,372.4 L485.4,372.1 L485.4,372.1 L485.4,371.2 L485.4,370.0 L485.4,369.3 L485.4,369.4 L485.4,368.0 L485.4,367.7 L485.4,367.6 L485.4,366.3 L485.4,365.8 L485.4,365.6 L485.4,364.8 L485.5,364.8 L485.5,363.7 L485.5,363.4 L485.5,362.8 L485.5,361.7 L485.5,361.7 L485.5,361.2 L485.5,360.0 L485.5,359.3 L485.5,358.8 L485.5,358.9 L485.5,357.7 L485.5,356.9 L485.5,356.0 L485.5,355.9 L485.5,354.8 L485.5,355.1 L485.5,353.8 L485.5,353.0 L485.5,353.3 L485.5,352.4 L485.6,351.9 L485.6,350.7 L485.6,350.8 L485.6,350.0 L485.6,349.4 L485.6,349.1 L485.6,348.5 L485.6,347.5 L485.6,347.5 L485.6,346.5 L485.6,345.7 L485.6,345.4 L485.6,344.6 L485.6,344.5 L485.6,343.4 L485.6,342.7 L485.6,342.1 L485.6,341.8 L485.6,340.3 L485.6,339.8 L485.6,339.6 L485.6,339.3 L485.6,338.8 L485.7,337.8 L485.7,336.7 L485.7,335.8 L485.7,336.0 L485.7,335.3 L485.7,335.0 L485.7,334.7 L485.7,333.3 L485.7,333.6 L485.7,332.3 L485.7,331.8 L485.7,331.4 L485.7,329.9 L485.7,331.1 L485.7,329.4 L485.7,329.3 L485.7,328.0 L485.7,327.0 L485.7,326.7 L485.7,326.0 L485.7,325.1 L485.7,324.3 L485.7,325.0 L485.7,323.8 L485.8,323.5 L485.8,323.4 L485.8,322.1 L485.8,321.7 L485.8,321.5 L485.8,320.6 L485.8,320.0 L485.8,318.9 L485.8,318.3 L485.8,318.4 L485.8,317.4 L485.8,317.3 L485.8,316.6 L485.8,315.9 L485.8,315.4 L485.8,314.6 L485.8,314.4 L485.8,312.4 L485.8,312.4 L485.8,312.2 L485.8,312.2 L485.8,310.2 L485.8,310.1 L485.8,309.9 L485.8,309.6 L485.9,308.3 L485.9,307.1 L485.9,307.4 L485.9,307.0 L485.9,306.3 L485.9,305.7 L485.9,305.1 L485.9,304.0 L485.9,303.9 L485.9,303.4 L485.9,302.5 L485.9,301.6 L485.9,301.1 L485.9,301.0 L485.9,299.8 L485.9,300.0 L485.9,299.0 L485.9,298.2 L485.9,298.0 L485.9,297.1 L485.9,297.4 L485.9,296.5 L485.9,295.0 L485.9,294.6 L486.0,293.3 L486.0,293.8 L486.0,293.1 L486.0,292.4 L486.0,291.1 L486.0,291.7 L486.0,291.0 L486.0,289.7 L486.0,289.0 L486.0,288.5 L486.0,288.4 L486.0,287.6 L486.0,286.9 L486.0,286.2 L486.0,285.1 L486.0,284.8 L486.0,283.8 L486.0,284.3 L486.0,283.3 L486.0,282.7 L486.0,281.9 L486.0,281.1 L486.0,280.0 L486.0,279.9 L486.1,279.5 L486.1,278.9 L486.1,278.8 L486.1,278.2 L486.1,276.9 L486.1,276.3 L486.1,276.5 L486.1,274.6 L486.1,274.8 L486.1,274.6 L486.1,273.7 L486.1,272.9 L486.1,272.7 L486.1,271.6 L486.1,270.9 L486.1,270.8 L486.1,270.0 L486.1,269.7 L486.1,269.4 L486.1,268.8 L486.1,266.7 L486.1,267.2 L486.2,266.7 L486.2,266.2 L486.2,265.2 L486.2,264.6 L486.2,264.2 L486.2,263.2 L486.2,262.2 L486.2,262.6 L486.2,262.0 L486.2,260.6 L486.2,260.9 L486.2,259.5 L486.2,259.4 L486.2,258.2 L486.2,258.1 L486.2,257.2 L486.2,256.7 L486.2,256.4 L486.2,255.9 L486.2,254.7 L486.2,255.1 L486.3,253.5 L486.3,252.6 L486.3,252.5 L486.3,252.9 L486.3,251.3 L486.3,250.3 L486.3,250.0 L486.3,249.8 L486.3,249.3 L486.3,248.7 L486.3,248.3 L486.3,248.1 L486.3,246.7 L486.3,246.3 L486.3,245.5 L486.3,245.0 L486.3,244.8 L486.3,243.8 L486.3,242.7 L486.4,242.9 L486.4,242.5 L486.4,241.4 L486.4,241.5 L486.4,240.5 L486.4,238.9 L486.4,238.7 L486.4,237.8 L486.4,237.5 L486.4,236.7 L486.4,236.6 L486.4,236.1 L486.4,234.5 L486.4,235.0 L486.4,234.0 L486.4,233.9 L486.4,232.8 L486.4,231.4 L486.5,231.6 L486.5,231.2 L486.5,230.7 L486.5,229.9 L486.5,228.9 L486.5,228.3 L486.5,227.8 L486.5,227.1 L486.5,226.9 L486.5,226.4 L486.5,226.0 L486.5,225.2 L486.5,224.4 L486.5,224.1 L486.5,223.3 L486.5,222.3 L486.6,222.5 L486.6,221.5 L486.6,220.9 L486.6,220.8 L486.6,219.9 L486.6,219.4 L486.6,219.3 L486.6,218.4 L486.6,217.7 L486.6,216.8 L486.6,215.3 L486.6,214.5 L486.6,214.5 L486.6,215.3 L486.6,213.6 L486.6,212.9 L486.7,212.7 L486.7,212.4 L486.7,211.5 L486.7,210.9 L486.7,210.2 L486.7,209.3 L486.7,208.7 L486.7,207.4 L486.7,207.7 L486.7,207.1 L486.7,206.6 L486.7,206.3 L486.7,204.7 L486.7,204.2 L486.7,204.4 L486.7,202.8 L486.8,203.0 L486.8,202.3 L486.8,201.9 L486.8,200.7 L486.8,200.7 L486.8,199.4 L486.8,199.6 L486.8,198.7 L486.8,197.9 L486.8,197.5 L486.8,197.4 L486.8,195.8 L486.8,195.6 L486.8,194.5 L486.8,194.8 L486.9,194.1 L486.9,192.9 L486.9,192.5 L486.9,191.6 L486.9,191.5 L486.9,191.3 L486.9,190.0 L486.9,189.7 L486.9,188.4 L486.9,189.1 L486.9,187.4 L486.9,187.3 L486.9,186.5 L486.9,186.5 L486.9,185.4 L487.0,184.7 L487.0,183.7 L487.0,184.1 L487.0,182.3 L487.0,183.1 L487.0,182.4 L487.0,182.0 L487.0,180.3 L487.0,179.8 L487.0,179.5 L487.0,179.3 L487.0,177.8 L487.0,178.2 L487.0,176.6 L487.0,176.8 L487.0,175.9 L487.1,175.4 L487.1,174.7 L487.1,174.4 L487.1,172.8 L487.1,173.3 L487.1,172.1 L487.1,171.6 L487.1,170.8 L487.1,170.8 L487.1,170.1 L487.1,169.1 L487.1,168.3 L487.1,168.8 L487.1,167.4 L487.1,167.1 L487.2,166.2 L487.2,166.1 L487.2,165.7 L487.2,164.9 L487.2,164.6 L487.2,164.0 L487.2,161.8 L487.2,161.9 L487.2,161.0 L487.2,161.2 L487.2,160.4 L487.2,159.2 L487.2,159.8 L487.2,158.6 L487.3,158.6 L487.3,157.1 L487.3,157.1 L487.3,156.7 L487.3,155.4 L487.3,155.1 L487.3,154.3 L487.3,153.6 L487.3,153.3 L487.3,151.7 L487.3,152.2 L487.3,151.4 L487.3,150.2 L487.3,150.4 L487.3,148.7 L487.4,148.5 L487.4,148.8 L487.4,148.0 L487.4,146.9 L487.4,147.1 L487.4,145.8 L487.4,145.3 L487.4,144.7 L487.4,144.4 L487.4,143.7 L487.4,142.5 L487.4,142.2 L487.4,142.0 L487.4,141.6 L487.5,140.6 L487.5,140.3 L487.5,139.7 L487.5,138.3 L487.5,138.0 L487.5,138.4 L487.5,136.8 L487.5,136.6 L487.5,135.2 L487.5,136.4 L487.5,134.2 L487.5,134.2 L487.5,133.6 L487.5,132.1 L487.5,132.1 L487.6,132.0 L487.6,130.7 L487.6,130.7 L487.6,129.6 L487.6,129.6 L487.6,129.5 L487.6,127.5 L487.6,127.5 L487.6,126.5 L487.6,125.7 L487.6,125.5 L487.6,125.0 L487.6,124.5 L487.6,123.9 L487.7,122.2 L487.7,122.3 L487.7,121.1 L487.7,121.5 L487.7,121.1 L487.7,120.2 L487.7,119.3 L487.7,119.1 L487.7,118.7 L487.7,118.0 L487.7,116.9 L487.7,116.4 L487.7,116.4 L487.7,115.3 L487.8,114.8 L487.8,114.1 L487.8,113.8 L487.8,113.2 L487.8,112.2 L487.8,111.6 L487.8,111.0 L487.8,110.6 L487.8,110.2 L487.8,108.7 L487.8,109.4 L487.8,107.7 L487.8,107.6 L487.8,106.5 L487.9,106.1 L487.9,105.7 L487.9,105.3 L487.9,104.6 L487.9,104.3 L487.9,103.2 L487.9,103.4 L487.9,101.5 L487.9,101.6 L487.9,101.0 L487.9,100.1 L487.9,99.7 L487.9,98.8 L487.9,98.7 L488.0,97.8 L488.0,97.6 L488.0,96.9 L488.0,96.3 L488.0,95.6 L488.0,94.6 L488.0,94.6 L488.0,94.1 L488.0,93.0 L488.0,92.1 L488.0,91.7 L488.0,91.8 L488.0,90.1 L488.1,90.3 L488.1,89.4 L488.1,89.2 L488.1,87.7 L488.1,87.9 L488.1,86.7 L488.1,86.7 L488.1,86.6 L488.1,85.2 L488.1,85.5 L488.1,84.1 L488.1,83.8 L488.1,83.9 L488.1,82.7 L488.2,81.9 L488.2,80.2 L488.2,80.2 L488.2,80.1 L488.2,79.0 L488.2,78.3 L488.2,78.3 L488.2,76.9 L488.2,76.5 L488.2,76.6 L488.2,76.5 L488.2,74.8 L488.2,74.6 L488.3,74.1 L488.3,73.1 L488.3,72.4 L488.3,72.3 L488.3,71.1 L488.3,70.6 L488.3,71.1 L488.3,68.9 L488.3,69.9 L488.3,69.1 L488.3,67.7 L488.3,67.8 L488.3,66.8 L488.3,65.7 L488.4,65.3 L488.4,64.6 L488.4,65.0 L488.4,63.2 L488.4,62.6 L488.4,62.4 L488.4,61.6 L488.4,62.2 L488.4,60.5 L488.4,59.8 L488.4,59.2 L488.4,58.6 L488.4,57.5 L488.5,57.7 L488.5,56.8 L488.5,56.4 L488.5,56.4 L488.5,55.7 L488.5,55.0 L488.5,53.7 L488.5,53.5 L488.5,52.7 L488.5,52.2 L488.5,51.6 L488.5,50.9 L488.5,50.9 L488.6,49.6 L488.6,49.9 L488.6,48.9 L488.6,48.0 L488.6,47.7 L488.6,46.8 L488.6,46.2 L488.6,46.1 L488.6,45.0 L488.6,46.2 L488.6,43.4 L488.6,42.8 L488.6,43.2 L488.7,41.9 L488.7,41.2 L488.7,40.5 L488.7,40.2 L488.7,39.4 L488.7,39.4 L488.7,38.2 L488.7,37.9 L488.7,37.5 L488.7,36.8 L488.7,35.9 L488.7,35.0 L488.7,34.3 L488.8,33.6 L488.8,34.0 L488.8,32.8 L488.8,32.3 L488.8,31.9 L488.8,31.4 L488.8,31.1 L488.8,30.3 L488.8,29.4 L488.8,28.4 L488.8,28.5 L488.8,27.6 L488.8,27.1 L488.9,26.1 L488.9,26.0 L488.9,25.6 L488.9,24.6 L488.9,24.4 L488.9,23.5 L488.9,22.8 L488.9,22.8 L488.9,21.6 L488.9,21.2 L488.9,19.9 L488.9,20.3 L489.0,19.1 L489.0,18.6 L489.0,17.9 L489.0,17.6 L489.0,16.7 L489.0,15.9 L489.0,15.8 L489.0,15.2 L489.0,14.3 L489.0,14.2 L489.0,13.8 L489.0,12.4 L489.0,12.3 L489.1,11.8 L489.1,10.4 L489.1,10.0 L489.1,9.1 L489.1,10.2 L489.1,9.1 L489.1,8.6 L489.1,9.4 L489.1,10.2 L489.1,10.2 L489.1,11.2 L489.1,11.6 L489.2,13.2 L489.2,11.8 L489.2,12.6 L489.2,13.1 L489.2,14.3 L489.2,14.2 L489.2,15.5 L489.2,15.0 L489.2,16.8 L489.2,17.2 L489.2,18.2 L489.2,18.5 L489.3,18.8 L489.3,19.5 L489.3,19.1 L489.3,20.5 L489.3,21.2 L489.3,22.5 L489.3,22.4 L489.3,22.3 L489.3,24.5 L489.3,23.8 L489.3,24.8 L489.3,25.0 L489.4,24.5 L489.4,26.9 L489.4,27.0 L489.4,28.1 L489.4,28.1 L489.4,29.2 L489.4,30.2 L489.4,30.4 L489.4,30.7 L489.4,31.2 L489.4,32.0 L489.5,32.0 L489.5,33.2 L489.5,34.0 L489.5,33.8 L489.5,34.4 L489.5,36.3 L489.5,36.2 L489.5,37.5 L489.5,37.6 L489.5,38.3 L489.5,38.6 L489.6,39.9 L489.6,40.3 L489.6,40.3 L489.6,40.2 L489.6,41.0 L489.6,42.1 L489.6,42.4 L489.6,43.6 L489.6,44.1 L489.6,44.8 L489.6,45.4 L489.7,45.8 L489.7,46.5 L489.7,47.0 L489.7,47.1 L489.7,48.1 L489.7,48.7 L489.7,49.7 L489.7,49.8 L489.7,50.2 L489.7,52.0 L489.7,52.1 L489.8,52.8 L489.8,53.6 L489.8,53.4 L489.8,54.6 L489.8,54.8 L489.8,54.9 L489.8,56.1 L489.8,56.7 L489.8,57.4 L489.8,57.7 L489.8,58.3 L489.9,58.5 L489.9,59.9 L489.9,59.3 L489.9,60.8 L489.9,61.1 L489.9,61.8 L489.9,62.7 L489.9,63.0 L489.9,63.0 L489.9,63.5 L490.0,64.2 L490.0,65.2 L490.0,66.0 L490.0,66.6 L490.0,67.4 L490.0,68.0 L490.0,68.4 L490.0,68.6 L490.0,69.6 L490.0,70.1 L490.0,71.7 L490.1,72.0 L490.1,71.8 L490.1,72.7 L490.1,73.9 L490.1,74.0 L490.1,75.0 L490.1,75.3 L490.1,75.9 L490.1,76.6 L490.1,76.7 L490.2,77.3 L490.2,78.0 L490.2,79.2 L490.2,79.5 L490.2,79.4 L490.2,81.0 L490.2,81.4 L490.2,82.2 L490.2,82.5 L490.2,83.0 L490.3,82.7 L490.3,84.3 L490.3,84.0 L490.3,85.3 L490.3,86.7 L490.3,86.7 L490.3,87.3 L490.3,87.6 L490.3,88.5 L490.3,88.4 L490.4,89.5 L490.4,90.3 L490.4,90.7 L490.4,90.9 L490.4,91.0 L490.4,92.3 L490.4,92.8 L490.4,93.5 L490.4,94.6 L490.4,94.2 L490.5,95.9 L490.5,95.6 L490.5,97.8 L490.5,97.9 L490.5,98.2 L490.5,98.2 L490.5,99.2 L490.5,99.8 L490.5,100.1 L490.5,100.7 L490.6,102.0 L490.6,102.2 L490.6,103.6 L490.6,103.9 L490.6,103.9 L490.6,104.8 L490.6,105.2 L490.6,105.3 L490.6,106.6 L490.6,106.6 L490.7,108.2 L490.7,108.6 L490.7,107.8 L490.7,109.4 L490.7,109.5 L490.7,111.3 L490.7,111.1 L490.7,111.9 L490.7,112.6 L490.8,112.6 L490.8,113.6 L490.8,114.7 L490.8,114.5 L490.8,115.6 L490.8,115.9 L490.8,117.5 L490.8,118.0 L490.8,117.8 L490.8,118.3 L490.9,119.2 L490.9,119.5 L490.9,120.1 L490.9,120.5 L490.9,122.1 L490.9,122.9 L490.9,122.8 L490.9,122.5 L490.9,123.2 L491.0,124.6 L491.0,124.6 L491.0,125.3 L491.0,126.2 L491.0,126.6 L491.0,127.9 L491.0,127.4 L491.0,128.6 L491.0,128.7 L491.0,129.8 L491.1,129.6 L491.1,130.8 L491.1,132.0 L491.1,131.9 L491.1,132.9 L491.1,133.1 L491.1,134.0 L491.1,134.4 L491.1,135.4 L491.2,135.3 L491.2,136.3 L491.2,137.3 L491.2,137.3 L491.2,138.5 L491.2,139.1 L491.2,139.5 L491.2,139.1 L491.2,141.3 L491.3,140.6 L491.3,141.8 L491.3,142.5 L491.3,143.7 L491.3,143.6 L491.3,143.8 L491.3,145.0 L491.3,146.1 L491.3,145.6 L491.3,146.8 L491.4,147.2 L491.4,147.9 L491.4,148.3 L491.4,149.1 L491.4,149.8 L491.4,151.2 L491.4,150.0 L491.4,152.1 L491.4,152.0 L491.5,152.2 L491.5,152.6 L491.5,154.4 L491.5,153.7 L491.5,155.8 L491.5,155.0 L491.5,156.4 L491.5,156.4 L491.5,156.8 L491.6,157.7 L491.6,159.4 L491.6,159.3 L491.6,159.9 L491.6,160.8 L491.6,161.5 L491.6,161.2 L491.6,162.4 L491.6,162.8 L491.7,163.2 L491.7,163.1 L491.7,165.0 L491.7,165.5 L491.7,165.6 L491.7,167.9 L491.7,166.5 L491.7,167.5 L491.7,168.3 L491.8,168.5 L491.8,169.4 L491.8,170.6 L491.8,170.1 L491.8,170.3 L491.8,171.5 L491.8,172.0 L491.8,172.8 L491.9,173.3 L491.9,174.1 L491.9,175.7 L491.9,175.4 L491.9,176.9 L491.9,176.5 L491.9,176.9 L491.9,176.9 L491.9,178.4 L492.0,179.2 L492.0,180.7 L492.0,179.4 L492.0,180.4 L492.0,181.2 L492.0,181.8 L492.0,182.5 L492.0,182.8 L492.0,183.7 L492.1,183.9 L492.1,184.5 L492.1,185.6 L492.1,186.6 L492.1,186.4 L492.1,186.5 L492.1,187.7 L492.1,188.5 L492.1,189.1 L492.2,190.2 L492.2,189.9 L492.2,190.8 L492.2,191.2 L492.2,192.8 L492.2,192.9 L492.2,193.2 L492.2,193.6 L492.3,194.9 L492.3,194.5 L492.3,196.2 L492.3,196.8 L492.3,197.2 L492.3,197.6 L492.3,198.1 L492.3,199.1 L492.3,199.2 L492.4,200.4 L492.4,199.9 L492.4,201.7 L492.4,201.7 L492.4,202.9 L492.4,203.1 L492.4,203.3 L492.4,204.1 L492.5,204.5 L492.5,205.7 L492.5,205.3 L492.5,205.9 L492.5,207.5 L492.5,207.9 L492.5,207.9 L492.5,209.2 L492.5,209.0 L492.6,210.2 L492.6,210.2 L492.6,211.6 L492.6,211.9 L492.6,212.6 L492.6,212.2 L492.6,213.3 L492.6,213.7 L492.7,214.7 L492.7,215.5 L492.7,215.4 L492.7,216.5 L492.7,217.3 L492.7,218.1 L492.7,218.5 L492.7,219.2 L492.7,220.2 L492.8,219.6 L492.8,221.4 L492.8,220.9 L492.8,222.1 L492.8,222.4 L492.8,223.4 L492.8,223.8 L492.8,225.0 L492.9,224.4 L492.9,226.2 L492.9,226.5 L492.9,227.4 L492.9,227.3 L492.9,228.7 L492.9,228.8 L492.9,229.6 L493.0,230.0 L493.0,230.8 L493.0,231.7 L493.0,231.6 L493.0,231.5 L493.0,233.0 L493.0,233.8 L493.0,233.8 L493.0,234.5 L493.1,234.7 L493.1,236.1 L493.1,236.1 L493.1,237.5 L493.1,238.2 L493.1,239.1 L493.1,239.5 L493.1,240.0 L493.2,240.2 L493.2,241.6 L493.2,240.5 L493.2,241.4 L493.2,243.3 L493.2,242.8 L493.2,243.2 L493.2,244.0 L493.2,245.3 L493.3,246.0 L493.3,246.4 L493.3,246.5 L493.3,247.2 L493.3,248.2 L493.3,248.4 L493.3,249.4 L493.3,249.2 L493.4,250.8 L493.4,251.0 L493.4,251.5 L493.4,251.9 L493.4,251.8 L493.4,253.9 L493.4,253.7 L493.4,254.5 L493.4,255.1 L493.5,256.1 L493.5,256.3 L493.5,257.7 L493.5,257.8 L493.5,258.0 L493.5,258.5 L493.5,260.4 L493.5,259.6 L493.6,260.3 L493.6,260.7 L493.6,261.8 L493.6,262.3 L493.6,263.5 L493.6,263.1 L493.6,263.5 L493.6,265.5 L493.6,264.2 L493.7,265.9 L493.7,265.8 L493.7,267.4 L493.7,267.4 L493.7,268.6 L493.7,268.7 L493.7,269.6 L493.7,269.6 L493.8,270.7 L493.8,271.4 L493.8,272.0 L493.8,273.0 L493.8,273.5 L493.8,274.9 L493.8,273.8 L493.8,275.1 L493.8,275.5 L493.9,276.4 L493.9,277.3 L493.9,278.2 L493.9,278.6 L493.9,278.1 L493.9,278.7 L493.9,279.3 L493.9,280.3 L493.9,280.3 L494.0,281.4 L494.0,281.4 L494.0,282.6 L494.0,283.3 L494.0,284.4 L494.0,284.5 L494.0,285.0 L494.0,286.0 L494.1,286.0 L494.1,287.5 L494.1,287.5 L494.1,288.3 L494.1,288.6 L494.1,289.3 L494.1,289.8 L494.1,290.3 L494.1,291.2 L494.2,292.1 L494.2,291.7 L494.2,292.9 L494.2,294.0 L494.2,294.0 L494.2,295.2 L494.2,295.6 L494.2,295.5 L494.3,296.3 L494.3,297.7 L494.3,298.2 L494.3,298.5 L494.3,299.0 L494.3,298.5 L494.3,300.1 L494.3,300.0 L494.4,301.3 L494.4,301.9 L494.4,302.5 L494.4,303.3 L494.4,303.8 L494.4,303.8 L494.4,304.7 L494.4,305.9 L494.4,307.0 L494.5,306.3 L494.5,307.5 L494.5,308.4 L494.5,308.8 L494.5,309.1 L494.5,310.3 L494.5,311.1 L494.5,311.0 L494.6,311.2 L494.6,311.6 L494.6,313.1 L494.6,313.9 L494.6,313.9 L494.6,314.6 L494.6,315.1 L494.6,316.6 L494.7,316.0 L494.7,317.3 L494.7,317.3 L494.7,318.5 L494.7,319.0 L494.7,319.9 L494.7,319.9 L494.7,320.3 L494.8,320.9 L494.8,321.3 L494.8,322.8 L494.8,322.9 L494.8,322.8 L494.8,324.3 L494.8,324.5 L494.8,324.6 L494.9,325.8 L494.9,326.5 L494.9,326.9 L494.9,327.5 L494.9,327.8 L494.9,328.4 L494.9,330.4 L494.9,329.6 L495.0,331.0 L495.0,331.5 L495.0,331.9 L495.0,331.7 L495.0,333.6 L495.0,333.4 L495.0,335.3 L495.1,334.7 L495.1,335.0 L495.1,336.6 L495.1,336.6 L495.1,337.4 L495.1,338.3 L495.1,338.1 L495.1,338.6 L495.2,339.7 L495.2,340.8 L495.2,340.9 L495.2,341.4 L495.2,342.7 L495.2,343.2 L495.2,343.3 L495.3,344.8 L495.3,344.4 L495.3,345.3 L495.3,345.4 L495.3,346.6 L495.3,347.4 L495.3,347.5 L495.4,347.5 L495.4,348.9 L495.4,349.3 L495.4,350.1 L495.4,350.0 L495.4,351.3 L495.4,351.4 L495.4,352.7 L495.5,353.0 L495.5,353.5 L495.5,354.2 L495.5,355.0 L495.5,356.0 L495.5,355.9 L495.5,356.6 L495.6,356.8 L495.6,357.8 L495.6,357.8 L495.6,358.8 L495.6,360.2 L495.6,360.2 L495.6,360.6 L495.7,361.2 L495.7,361.6 L495.7,362.8 L495.7,363.0 L495.7,363.4 L495.7,365.1 L495.8,365.4 L495.8,365.7 L495.8,365.9 L495.8,367.3 L495.8,368.2 L495.8,367.9 L495.8,368.7 L495.9,369.4 L495.9,370.4 L495.9,370.6 L495.9,371.1 L495.9,371.4 L495.9,371.9 L495.9,372.9 L496.0,373.4 L496.0,373.8 L496.0,374.1 L496.0,375.1 L496.0,375.5 L496.0,376.4 L496.1,377.4 L496.1,377.9 L496.1,378.7 L496.1,378.0 L496.1,379.9 L496.1,379.4 L496.1,380.7 L496.2,381.1 L496.2,382.0 L496.2,381.9 L496.2,383.2 L496.2,382.8 L496.2,384.6 L496.3,384.3 L496.3,386.3 L496.3,385.7 L496.3,386.4 L496.3,387.0 L496.3,387.9 L496.4,388.2 L496.4,388.8 L496.4,389.3 L496.4,390.1 L496.4,391.2 L496.4,391.1 L496.5,392.0 L496.5,392.3 L496.5,393.0 L496.5,393.9 L496.5,394.4 L496.5,394.4 L496.6,395.7 L496.6,396.1 L496.6,396.8 L496.6,398.3 L496.6,397.9 L496.6,397.8 L496.7,399.6 L496.7,399.3 L496.7,400.0 L496.7,400.6 L496.7,401.8 L496.8,401.4 L496.8,402.4 L496.8,402.9 L496.8,404.2 L496.8,404.6 L496.8,405.0 L496.9,405.7 L496.9,405.9 L496.9,406.4 L496.9,407.8 L496.9,407.8 L496.9,408.7 L497.0,409.0 L497.0,409.3 L497.0,409.9 L497.0,411.2 L497.0,412.5 L497.1,412.2 L497.1,413.5 L497.1,413.4 L497.1,414.0 L497.1,414.9 L497.2,414.8 L497.2,415.8 L497.2,416.3 L497.2,417.3 L497.2,416.8 L497.2,418.7 L497.3,419.3 L497.3,419.6 L497.3,420.2 L497.3,420.6 L497.3,421.2 L497.4,422.0 L497.4,421.9 L497.4,422.7 L497.4,423.5 L497.4,425.2 L497.5,424.7 L497.5,426.3 L497.5,425.8 L497.5,425.2 L497.5,427.2 L497.6,427.9 L497.6,429.3 L497.6,428.7 L497.6,429.9 L497.6,429.9 L497.7,431.0 L497.7,431.7 L497.7,431.7 L497.7,433.1 L497.7,433.5 L497.8,433.5 L497.8,434.9 L497.8,434.8 L497.8,435.9 L497.9,436.1 L497.9,436.5 L497.9,438.0 L497.9,438.9 L497.9,439.1 L498.0,439.6 L498.0,439.7 L498.0,441.4 L498.0,441.2 L498.0,441.9 L498.1,442.0 L498.1,442.4 L498.1,443.7 L498.1,444.4 L498.2,444.3 L498.2,445.1 L498.2,445.9 L498.3,446.5 L498.3,446.6 L498.3,447.0 L498.3,448.0 L498.4,449.0 L498.4,449.7 L498.4,449.9 L498.5,451.4 L498.5,450.7 L498.5,451.7 L498.6,452.5 L498.6,453.1 L498.6,453.8 L498.7,453.9 L498.7,454.5 L498.7,454.8 L498.8,456.4 L498.8,456.3 L498.8,457.3 L498.9,458.3 L498.9,458.5 L499.0,458.4 L499.0,459.6 L499.0,460.4 L499.1,461.6 L499.1,461.6 L499.1,461.7 L499.2,464.0 L499.2,463.7 L499.2,464.0 L499.3,464.1 L499.3,464.5 L499.3,465.6 L499.4,466.3 L499.4,466.6 L499.4,467.6 L499.5,468.0 L499.5,467.9 L499.5,470.0 L499.5,469.1 L499.6,470.9 L499.6,470.8 L499.6,470.7 L499.7,471.8 L499.7,473.3 L499.7,472.8 L499.7,473.8 L499.8,475.2 L499.8,474.8 L499.8,476.1 L499.8,475.8 L499.9,477.0 L499.9,477.5 L499.9,478.2 L499.9,478.5 L500.0,479.9 L500.0,479.3 L500.0,481.2 L500.0,481.2 L500.0,481.4 L500.1,482.6 L500.1,483.3 L500.1,483.6 L500.1,484.0 L500.1,485.6 L500.2,485.5 L500.2,485.6 L500.2,487.4 L500.2,487.6 L500.2,487.8 L500.2,488.0 L500.3,489.4 L500.3,489.4 L500.3,490.1 L500.3,490.6 L500.3,490.8 L500.3,492.9 L500.4,492.8 L500.4,493.6 L500.4,493.6 L500.4,495.0 L500.4,493.8 L500.4,495.4 L500.5,495.1 L500.5,496.9 L500.5,497.7 L500.5,498.2 L500.5,498.0 L500.5,499.2 L500.6,499.7 L500.6,500.5 L500.6,501.5 L500.6,501.4 L500.6,502.6 L500.7,503.1 L500.7,503.8 L500.7,503.7 L500.7,504.3 L500.7,505.0 L500.7,505.4 L500.8,506.1 L500.8,506.7 L500.8,507.8 L500.8,508.0 L500.8,509.1 L500.9,509.2 L500.9,510.8 L500.9,510.6 L500.9,511.2 L501.0,511.3 L501.0,512.8 L501.0,513.5 L501.0,513.5 L501.1,514.5 L501.1,515.5 L501.1,515.1 L501.1,516.4 L501.1,516.5 L501.2,517.2 L501.2,517.4 L501.2,518.4 L501.3,519.0 L501.3,519.9 L501.3,520.0 L501.3,520.7 L501.4,522.3 L501.4,522.1 L501.4,522.9 L501.4,523.4 L501.5,523.3 L501.5,524.4 L501.5,525.1 L501.6,525.0 L501.6,527.1 L501.6,526.6 L501.6,527.1 L501.7,528.1 L501.7,528.9 L501.7,529.5 L501.8,529.9 L501.8,531.1 L501.8,531.3 L501.9,531.7 L501.9,532.5 L501.9,532.7 L502.0,533.3 L502.0,534.2 L502.0,534.4 L502.1,534.9 L502.1,535.9 L502.2,536.4 L502.2,537.0 L502.2,537.3 L502.3,538.9 L502.3,538.7 L502.4,539.7 L502.4,540.2 L502.4,540.2 L502.5,541.3 L502.5,542.0 L502.6,542.8 L502.6,542.3 L502.7,543.1 L502.7,544.6 L502.8,544.4 L502.8,544.9 L502.9,546.2 L502.9,546.5 L503.0,547.6 L503.0,546.9 L503.1,548.7 L503.1,549.3 L503.2,549.4 L503.2,549.9 L503.3,551.2 L503.4,550.9 L503.4,552.9 L503.5,552.9 L503.6,552.6 L503.7,553.7 L503.7,554.4 L503.8,555.3 L503.9,555.3 L504.0,556.3 L504.1,556.6 L504.2,557.2 L504.2,557.7 L504.3,558.8 L504.4,559.1 L504.5,559.9 L504.6,560.5 L504.7,560.9 L504.8,562.2 L504.9,562.5 L505.0,562.9 L505.1,562.8 L505.2,564.3 L505.3,564.5 L505.4,565.1 L505.5,565.3 L505.7,566.1 L505.8,567.5 L505.9,567.7 L506.0,568.0 L506.1,568.7 L506.2,569.0 L506.3,570.0 L506.5,570.2 L506.6,570.7 L506.7,572.1 L506.9,572.1 L507.0,573.1 L507.1,573.0 L507.3,573.8 L507.4,574.8" stroke="#007f00" stroke-width="3.8"/>
</g>
<rect x="66.3" y="7.3" width="659.1" height="612.25" fill="none" stroke="#404040" stroke-width="1.2"/>
<path d="M160.46,619.55 v-6.8 M160.46,7.3 v6.8 M254.61,619.55 v-6.8 M254.61,7.3 v6.8 M348.77,619.55 v-6.8 M348.77,7.3 v6.8 M442.93,619.55 v-6.8 M442.93,7.3 v6.8 M537.09,619.55 v-6.8 M537.09,7.3 v6.8 M631.24,619.55 v-6.8 M631.24,7.3 v6.8 M66.3,558.32 h6.8 M725.4,558.32 h-6.8 M66.3,497.10 h6.8 M725.4,497.10 h-6.8 M66.3,435.87 h6.8 M725.4,435.87 h-6.8 M66.3,374.65 h6.8 M725.4,374.65 h-6.8 M66.3,313.42 h6.8 M725.4,313.42 h-6.8 M66.3,252.20 h6.8 M725.4,252.20 h-6.8 M66.3,190.97 h6.8 M725.4,190.97 h-6.8 M66.3,129.75 h6.8 M725.4,129.75 h-6.8 M66.3,68.52 h6.8 M725.4,68.52 h-6.8" stroke="#404040" stroke-width="1.2" fill="none"/>
<g filter="url(#f)" font-family="Liberation Sans, sans-serif" font-size="19.35" style="font-kerning:none" fill="#000" stroke="#000" stroke-width="0.3">
<text transform="translate(66.3,642.8) rotate(0.03)" text-anchor="middle">980</text>
<text transform="translate(160.5,642.8) rotate(0.03)" text-anchor="middle">1000</text>
<text transform="translate(254.6,642.8) rotate(0.03)" text-anchor="middle">1020</text>
<text transform="translate(348.8,642.8) rotate(0.03)" text-anchor="middle">1040</text>
<text transform="translate(442.9,642.8) rotate(0.03)" text-anchor="middle">1060</text>
<text transform="translate(537.1,642.8) rotate(0.03)" text-anchor="middle">1080</text>
<text transform="translate(631.2,642.8) rotate(0.03)" text-anchor="middle">1100</text>
<text transform="translate(725.4,642.8) rotate(0.03)" text-anchor="middle">1120</text>
<text transform="translate(60.5,626.4) rotate(0.03)" text-anchor="end">0</text>
<text transform="translate(60.5,565.2) rotate(0.03)" text-anchor="end">10</text>
<text transform="translate(60.5,504.0) rotate(0.03)" text-anchor="end">20</text>
<text transform="translate(60.5,442.8) rotate(0.03)" text-anchor="end">30</text>
<text transform="translate(60.5,381.5) rotate(0.03)" text-anchor="end">40</text>
<text transform="translate(60.5,320.3) rotate(0.03)" text-anchor="end">50</text>
<text transform="translate(60.5,259.1) rotate(0.03)" text-anchor="end">60</text>
<text transform="translate(60.5,197.9) rotate(0.03)" text-anchor="end">70</text>
<text transform="translate(60.5,136.6) rotate(0.03)" text-anchor="end">80</text>
<text transform="translate(60.5,75.4) rotate(0.03)" text-anchor="end">90</text>
<text transform="translate(60.5,14.2) rotate(0.03)" text-anchor="end">100</text>
</g>
<g filter="url(#f)" font-family="Liberation Sans, sans-serif" font-size="19.65" fill="#000" stroke="#000" stroke-width="0.3">
<text transform="translate(395.5,667.2) rotate(0.03)" text-anchor="middle">Wavelength (nm)</text>
<text transform="translate(15.1,313.7) rotate(-90)" text-anchor="middle" font-size="19.7">Reflectance (%)</text>
</g>
<rect x="83.6" y="29" width="202.9" height="88.4" fill="#fff" stroke="#404040" stroke-width="1.2"/>
<g filter="url(#f)" font-family="Liberation Sans, sans-serif" font-size="19.65" fill="#000" stroke="#000" stroke-width="0.3">
<line x1="95.7" y1="45.8" x2="154.8" y2="45.8" stroke="#ff0000" stroke-width="3.8"/>
<text transform="translate(160.5,52.7) rotate(0.03)">simulation</text>
<line x1="95.7" y1="73.2" x2="154.8" y2="73.2" stroke="#0000ff" stroke-width="3.8"/>
<text transform="translate(160.5,80.1) rotate(0.03)">measurement</text>
<line x1="95.7" y1="100.4" x2="154.8" y2="100.4" stroke="#007f00" stroke-width="3.8"/>
<text transform="translate(160.5,107.3) rotate(0.03)">IPG test laser</text>
</g>
</svg></body></html>
